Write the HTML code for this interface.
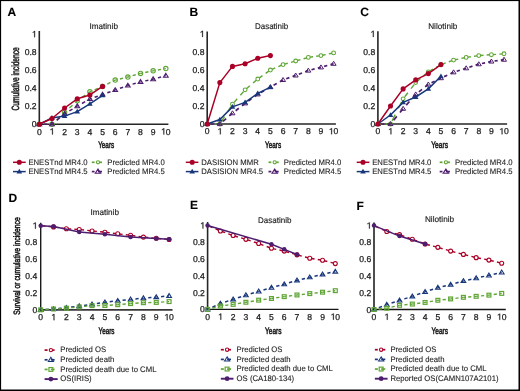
<!DOCTYPE html>
<html><head><meta charset="utf-8"><style>
html,body{margin:0;padding:0;background:#fff;}
body{width:520px;height:391px;overflow:hidden;position:relative;}
svg{position:absolute;left:0;top:0;display:block;will-change:transform;}
text{font-family:"Liberation Sans",sans-serif;text-rendering:geometricPrecision;}
</style></head><body>
<svg width="520" height="391" viewBox="0 0 520 391">
<rect x="0" y="0" width="520" height="391" fill="#fff"/>
<g>
<text x="7.40" y="15.90" font-size="12" text-anchor="start" fill="#000" font-weight="bold" stroke="#000" stroke-width="0.1" >A</text>
<text x="189.40" y="15.70" font-size="12" text-anchor="start" fill="#000" font-weight="bold" stroke="#000" stroke-width="0.1" >B</text>
<text x="360.20" y="16.00" font-size="12" text-anchor="start" fill="#000" font-weight="bold" stroke="#000" stroke-width="0.1" >C</text>
<text x="8.60" y="201.80" font-size="12" text-anchor="start" fill="#000" font-weight="bold" stroke="#000" stroke-width="0.1" >D</text>
<text x="190.10" y="209.40" font-size="12" text-anchor="start" fill="#000" font-weight="bold" stroke="#000" stroke-width="0.1" >E</text>
<text x="356.50" y="209.60" font-size="12" text-anchor="start" fill="#000" font-weight="bold" stroke="#000" stroke-width="0.1" >F</text>
<text x="89.45" y="28.70" font-size="8.3" text-anchor="start" fill="#1c1c1c" font-weight="normal" stroke="#1c1c1c" stroke-width="0.15" textLength="28.57" lengthAdjust="spacingAndGlyphs" >Imatinib</text>
<text x="254.95" y="28.70" font-size="8.3" text-anchor="start" fill="#1c1c1c" font-weight="normal" stroke="#1c1c1c" stroke-width="0.15" textLength="33.36" lengthAdjust="spacingAndGlyphs" >Dasatinib</text>
<text x="428.15" y="28.70" font-size="8.3" text-anchor="start" fill="#1c1c1c" font-weight="normal" stroke="#1c1c1c" stroke-width="0.15" textLength="29.20" lengthAdjust="spacingAndGlyphs" >Nilotinib</text>
<text x="90.40" y="214.80" font-size="8.3" text-anchor="start" fill="#1c1c1c" font-weight="normal" stroke="#1c1c1c" stroke-width="0.15" textLength="28.57" lengthAdjust="spacingAndGlyphs" >Imatinib</text>
<text x="258.05" y="222.75" font-size="8.3" text-anchor="start" fill="#1c1c1c" font-weight="normal" stroke="#1c1c1c" stroke-width="0.15" textLength="33.36" lengthAdjust="spacingAndGlyphs" >Dasatinib</text>
<text x="424.95" y="222.40" font-size="8.3" text-anchor="start" fill="#1c1c1c" font-weight="normal" stroke="#1c1c1c" stroke-width="0.15" textLength="29.20" lengthAdjust="spacingAndGlyphs" >Nilotinib</text>
<line x1="39.30" y1="31.00" x2="39.30" y2="125.00" stroke="#262626" stroke-width="1.6" stroke-linecap="butt"/>
<line x1="38.50" y1="124.20" x2="168.40" y2="124.20" stroke="#262626" stroke-width="1.6" stroke-linecap="butt"/>
<line x1="39.30" y1="124.20" x2="51.95" y2="124.20" stroke="#5fa635" stroke-width="1.4" stroke-dasharray="3.16 3.16" stroke-dashoffset="1.58"/>
<line x1="51.95" y1="124.20" x2="64.60" y2="112.50" stroke="#5fa635" stroke-width="1.4" stroke-dasharray="4.31 4.31" stroke-dashoffset="2.15"/>
<line x1="64.60" y1="112.50" x2="77.25" y2="100.80" stroke="#5fa635" stroke-width="1.4" stroke-dasharray="4.31 4.31" stroke-dashoffset="2.15"/>
<line x1="77.25" y1="100.80" x2="89.90" y2="91.80" stroke="#5fa635" stroke-width="1.4" stroke-dasharray="3.88 3.88" stroke-dashoffset="1.94"/>
<line x1="89.90" y1="91.80" x2="102.55" y2="86.40" stroke="#5fa635" stroke-width="1.4" stroke-dasharray="3.44 3.44" stroke-dashoffset="1.72"/>
<line x1="102.55" y1="86.40" x2="115.20" y2="80.10" stroke="#5fa635" stroke-width="1.4" stroke-dasharray="3.53 3.53" stroke-dashoffset="1.77"/>
<line x1="115.20" y1="80.10" x2="127.85" y2="77.04" stroke="#5fa635" stroke-width="1.4" stroke-dasharray="3.25 3.25" stroke-dashoffset="1.63"/>
<line x1="127.85" y1="77.04" x2="140.50" y2="73.44" stroke="#5fa635" stroke-width="1.4" stroke-dasharray="3.29 3.29" stroke-dashoffset="1.64"/>
<line x1="140.50" y1="73.44" x2="153.15" y2="70.83" stroke="#5fa635" stroke-width="1.4" stroke-dasharray="3.23 3.23" stroke-dashoffset="1.61"/>
<line x1="153.15" y1="70.83" x2="165.80" y2="68.58" stroke="#5fa635" stroke-width="1.4" stroke-dasharray="3.21 3.21" stroke-dashoffset="1.61"/>
<circle cx="39.30" cy="124.20" r="2.2" fill="none" stroke="#5fa635" stroke-width="1.1"/>
<circle cx="51.95" cy="124.20" r="2.2" fill="none" stroke="#5fa635" stroke-width="1.1"/>
<circle cx="64.60" cy="112.50" r="2.2" fill="none" stroke="#5fa635" stroke-width="1.1"/>
<circle cx="77.25" cy="100.80" r="2.2" fill="none" stroke="#5fa635" stroke-width="1.1"/>
<circle cx="89.90" cy="91.80" r="2.2" fill="none" stroke="#5fa635" stroke-width="1.1"/>
<circle cx="102.55" cy="86.40" r="2.2" fill="none" stroke="#5fa635" stroke-width="1.1"/>
<circle cx="115.20" cy="80.10" r="2.2" fill="none" stroke="#5fa635" stroke-width="1.1"/>
<circle cx="127.85" cy="77.04" r="2.2" fill="none" stroke="#5fa635" stroke-width="1.1"/>
<circle cx="140.50" cy="73.44" r="2.2" fill="none" stroke="#5fa635" stroke-width="1.1"/>
<circle cx="153.15" cy="70.83" r="2.2" fill="none" stroke="#5fa635" stroke-width="1.1"/>
<circle cx="165.80" cy="68.58" r="2.2" fill="none" stroke="#5fa635" stroke-width="1.1"/>
<line x1="39.30" y1="124.20" x2="51.95" y2="124.20" stroke="#4d1d6e" stroke-width="1.5" stroke-dasharray="3.16 3.16" stroke-dashoffset="1.58"/>
<line x1="51.95" y1="124.20" x2="64.60" y2="113.85" stroke="#4d1d6e" stroke-width="1.5" stroke-dasharray="4.09 4.09" stroke-dashoffset="2.04"/>
<line x1="64.60" y1="113.85" x2="77.25" y2="106.20" stroke="#4d1d6e" stroke-width="1.5" stroke-dasharray="3.70 3.70" stroke-dashoffset="1.85"/>
<line x1="77.25" y1="106.20" x2="89.90" y2="99.00" stroke="#4d1d6e" stroke-width="1.5" stroke-dasharray="3.64 3.64" stroke-dashoffset="1.82"/>
<line x1="89.90" y1="99.00" x2="102.55" y2="94.50" stroke="#4d1d6e" stroke-width="1.5" stroke-dasharray="3.36 3.36" stroke-dashoffset="1.68"/>
<line x1="102.55" y1="94.50" x2="115.20" y2="90.00" stroke="#4d1d6e" stroke-width="1.5" stroke-dasharray="3.36 3.36" stroke-dashoffset="1.68"/>
<line x1="115.20" y1="90.00" x2="127.85" y2="85.50" stroke="#4d1d6e" stroke-width="1.5" stroke-dasharray="3.36 3.36" stroke-dashoffset="1.68"/>
<line x1="127.85" y1="85.50" x2="140.50" y2="81.90" stroke="#4d1d6e" stroke-width="1.5" stroke-dasharray="3.29 3.29" stroke-dashoffset="1.64"/>
<line x1="140.50" y1="81.90" x2="153.15" y2="79.20" stroke="#4d1d6e" stroke-width="1.5" stroke-dasharray="3.23 3.23" stroke-dashoffset="1.62"/>
<line x1="153.15" y1="79.20" x2="165.80" y2="75.60" stroke="#4d1d6e" stroke-width="1.5" stroke-dasharray="3.29 3.29" stroke-dashoffset="1.64"/>
<polygon points="39.30,121.86 41.70,125.76 36.90,125.76" fill="none" stroke="#4d1d6e" stroke-width="1.05" stroke-linejoin="miter"/>
<polygon points="51.95,121.86 54.35,125.76 49.55,125.76" fill="none" stroke="#4d1d6e" stroke-width="1.05" stroke-linejoin="miter"/>
<polygon points="64.60,111.51 67.00,115.41 62.20,115.41" fill="none" stroke="#4d1d6e" stroke-width="1.05" stroke-linejoin="miter"/>
<polygon points="77.25,103.86 79.65,107.76 74.85,107.76" fill="none" stroke="#4d1d6e" stroke-width="1.05" stroke-linejoin="miter"/>
<polygon points="89.90,96.66 92.30,100.56 87.50,100.56" fill="none" stroke="#4d1d6e" stroke-width="1.05" stroke-linejoin="miter"/>
<polygon points="102.55,92.16 104.95,96.06 100.15,96.06" fill="none" stroke="#4d1d6e" stroke-width="1.05" stroke-linejoin="miter"/>
<polygon points="115.20,87.66 117.60,91.56 112.80,91.56" fill="none" stroke="#4d1d6e" stroke-width="1.05" stroke-linejoin="miter"/>
<polygon points="127.85,83.16 130.25,87.06 125.45,87.06" fill="none" stroke="#4d1d6e" stroke-width="1.05" stroke-linejoin="miter"/>
<polygon points="140.50,79.56 142.90,83.46 138.10,83.46" fill="none" stroke="#4d1d6e" stroke-width="1.05" stroke-linejoin="miter"/>
<polygon points="153.15,76.86 155.55,80.76 150.75,80.76" fill="none" stroke="#4d1d6e" stroke-width="1.05" stroke-linejoin="miter"/>
<polygon points="165.80,73.26 168.20,77.16 163.40,77.16" fill="none" stroke="#4d1d6e" stroke-width="1.05" stroke-linejoin="miter"/>
<polyline points="39.30,124.20 51.95,117.90 64.60,116.10 77.25,111.60 89.90,103.77 102.55,95.40" fill="none" stroke="#18367a" stroke-width="1.5" stroke-linejoin="round"/>
<polygon points="39.30,121.38 42.10,126.08 36.50,126.08" fill="#18367a"/>
<polygon points="51.95,115.08 54.75,119.78 49.15,119.78" fill="#18367a"/>
<polygon points="64.60,113.28 67.40,117.98 61.80,117.98" fill="#18367a"/>
<polygon points="77.25,108.78 80.05,113.48 74.45,113.48" fill="#18367a"/>
<polygon points="89.90,100.95 92.70,105.65 87.10,105.65" fill="#18367a"/>
<polygon points="102.55,92.58 105.35,97.28 99.75,97.28" fill="#18367a"/>
<polyline points="39.30,124.20 51.95,118.53 64.60,108.00 77.25,98.82 89.90,94.95 102.55,86.40" fill="none" stroke="#aa0027" stroke-width="1.5" stroke-linejoin="round"/>
<circle cx="39.30" cy="124.20" r="2.55" fill="#aa0027"/>
<circle cx="51.95" cy="118.53" r="2.55" fill="#aa0027"/>
<circle cx="64.60" cy="108.00" r="2.55" fill="#aa0027"/>
<circle cx="77.25" cy="98.82" r="2.55" fill="#aa0027"/>
<circle cx="89.90" cy="94.95" r="2.55" fill="#aa0027"/>
<circle cx="102.55" cy="86.40" r="2.55" fill="#aa0027"/>
<text x="39.30" y="134.50" font-size="8.6" text-anchor="middle" fill="#1c1c1c" font-weight="normal" stroke="#1c1c1c" stroke-width="0.25" >0</text>
<polygon points="52.02,134.50 52.78,134.50 52.78,128.34 52.28,128.34 50.49,129.46 50.49,130.17 52.02,129.23" fill="#1c1c1c" stroke="#1c1c1c" stroke-width="0.25" stroke-linejoin="round"/>
<text x="64.60" y="134.50" font-size="8.6" text-anchor="middle" fill="#1c1c1c" font-weight="normal" stroke="#1c1c1c" stroke-width="0.25" >2</text>
<text x="77.25" y="134.50" font-size="8.6" text-anchor="middle" fill="#1c1c1c" font-weight="normal" stroke="#1c1c1c" stroke-width="0.25" >3</text>
<text x="89.90" y="134.50" font-size="8.6" text-anchor="middle" fill="#1c1c1c" font-weight="normal" stroke="#1c1c1c" stroke-width="0.25" >4</text>
<text x="102.55" y="134.50" font-size="8.6" text-anchor="middle" fill="#1c1c1c" font-weight="normal" stroke="#1c1c1c" stroke-width="0.25" >5</text>
<text x="115.20" y="134.50" font-size="8.6" text-anchor="middle" fill="#1c1c1c" font-weight="normal" stroke="#1c1c1c" stroke-width="0.25" >6</text>
<text x="127.85" y="134.50" font-size="8.6" text-anchor="middle" fill="#1c1c1c" font-weight="normal" stroke="#1c1c1c" stroke-width="0.25" >7</text>
<text x="140.50" y="134.50" font-size="8.6" text-anchor="middle" fill="#1c1c1c" font-weight="normal" stroke="#1c1c1c" stroke-width="0.25" >8</text>
<text x="153.15" y="134.50" font-size="8.6" text-anchor="middle" fill="#1c1c1c" font-weight="normal" stroke="#1c1c1c" stroke-width="0.25" >9</text>
<polygon points="163.48,134.50 164.23,134.50 164.23,128.34 163.74,128.34 161.95,129.46 161.95,130.17 163.48,129.23" fill="#1c1c1c" stroke="#1c1c1c" stroke-width="0.25" stroke-linejoin="round"/>
<text x="165.80" y="134.50" font-size="8.6" text-anchor="start" fill="#1c1c1c" font-weight="normal" stroke="#1c1c1c" stroke-width="0.25" >0</text>
<text x="36.60" y="127.20" font-size="8.6" text-anchor="end" fill="#1c1c1c" font-weight="normal" stroke="#1c1c1c" stroke-width="0.25" >0</text>
<text x="36.60" y="109.20" font-size="8.6" text-anchor="end" fill="#1c1c1c" font-weight="normal" stroke="#1c1c1c" stroke-width="0.25" >0.2</text>
<text x="36.60" y="91.20" font-size="8.6" text-anchor="end" fill="#1c1c1c" font-weight="normal" stroke="#1c1c1c" stroke-width="0.25" >0.4</text>
<text x="36.60" y="73.20" font-size="8.6" text-anchor="end" fill="#1c1c1c" font-weight="normal" stroke="#1c1c1c" stroke-width="0.25" >0.6</text>
<text x="36.60" y="55.20" font-size="8.6" text-anchor="end" fill="#1c1c1c" font-weight="normal" stroke="#1c1c1c" stroke-width="0.25" >0.8</text>
<polygon points="34.28,37.20 35.03,37.20 35.03,31.04 34.54,31.04 32.75,32.16 32.75,32.87 34.28,31.93" fill="#1c1c1c" stroke="#1c1c1c" stroke-width="0.25" stroke-linejoin="round"/>
<text transform="translate(18.90,78.90) rotate(-90)" x="0" y="0" font-size="10.4" text-anchor="middle" fill="#1c1c1c" stroke="#1c1c1c" stroke-width="0.55" textLength="63.4" lengthAdjust="spacingAndGlyphs">Cumulative incidence</text>
<text x="98.20" y="147.80" font-size="9.3" fill="#1c1c1c" stroke="#1c1c1c" stroke-width="0.55" textLength="16.00" lengthAdjust="spacingAndGlyphs">Years</text>
<line x1="207.20" y1="31.40" x2="207.20" y2="124.80" stroke="#262626" stroke-width="1.6" stroke-linecap="butt"/>
<line x1="206.40" y1="124.00" x2="335.90" y2="124.00" stroke="#262626" stroke-width="1.6" stroke-linecap="butt"/>
<line x1="207.20" y1="124.00" x2="219.84" y2="124.00" stroke="#5fa635" stroke-width="1.4" stroke-dasharray="3.16 3.16" stroke-dashoffset="4.74"/>
<line x1="219.84" y1="124.00" x2="232.48" y2="104.20" stroke="#5fa635" stroke-width="1.4" stroke-dasharray="5.87 5.87" stroke-dashoffset="8.81"/>
<line x1="232.48" y1="104.20" x2="245.12" y2="89.80" stroke="#5fa635" stroke-width="1.4" stroke-dasharray="4.79 4.79" stroke-dashoffset="7.19"/>
<line x1="245.12" y1="89.80" x2="257.76" y2="79.00" stroke="#5fa635" stroke-width="1.4" stroke-dasharray="4.16 4.16" stroke-dashoffset="6.23"/>
<line x1="257.76" y1="79.00" x2="270.40" y2="70.00" stroke="#5fa635" stroke-width="1.4" stroke-dasharray="3.88 3.88" stroke-dashoffset="5.82"/>
<line x1="270.40" y1="70.00" x2="283.04" y2="64.60" stroke="#5fa635" stroke-width="1.4" stroke-dasharray="3.44 3.44" stroke-dashoffset="5.15"/>
<line x1="283.04" y1="64.60" x2="295.68" y2="61.00" stroke="#5fa635" stroke-width="1.4" stroke-dasharray="3.29 3.29" stroke-dashoffset="4.93"/>
<line x1="295.68" y1="61.00" x2="308.32" y2="57.40" stroke="#5fa635" stroke-width="1.4" stroke-dasharray="3.29 3.29" stroke-dashoffset="4.93"/>
<line x1="308.32" y1="57.40" x2="320.96" y2="55.60" stroke="#5fa635" stroke-width="1.4" stroke-dasharray="3.19 3.19" stroke-dashoffset="4.79"/>
<line x1="320.96" y1="55.60" x2="333.60" y2="52.90" stroke="#5fa635" stroke-width="1.4" stroke-dasharray="3.23 3.23" stroke-dashoffset="4.85"/>
<circle cx="207.20" cy="124.00" r="1.9" fill="none" stroke="#5fa635" stroke-width="1.05"/>
<circle cx="219.84" cy="124.00" r="1.9" fill="none" stroke="#5fa635" stroke-width="1.05"/>
<circle cx="232.48" cy="104.20" r="1.9" fill="none" stroke="#5fa635" stroke-width="1.05"/>
<circle cx="245.12" cy="89.80" r="1.9" fill="none" stroke="#5fa635" stroke-width="1.05"/>
<circle cx="257.76" cy="79.00" r="1.9" fill="none" stroke="#5fa635" stroke-width="1.05"/>
<circle cx="270.40" cy="70.00" r="1.9" fill="none" stroke="#5fa635" stroke-width="1.05"/>
<circle cx="283.04" cy="64.60" r="1.9" fill="none" stroke="#5fa635" stroke-width="1.05"/>
<circle cx="295.68" cy="61.00" r="1.9" fill="none" stroke="#5fa635" stroke-width="1.05"/>
<circle cx="308.32" cy="57.40" r="1.9" fill="none" stroke="#5fa635" stroke-width="1.05"/>
<circle cx="320.96" cy="55.60" r="1.9" fill="none" stroke="#5fa635" stroke-width="1.05"/>
<circle cx="333.60" cy="52.90" r="1.9" fill="none" stroke="#5fa635" stroke-width="1.05"/>
<line x1="207.20" y1="124.00" x2="219.84" y2="124.00" stroke="#4d1d6e" stroke-width="1.7" stroke-dasharray="3.16 3.16" stroke-dashoffset="3.16"/>
<line x1="219.84" y1="124.00" x2="232.48" y2="113.20" stroke="#4d1d6e" stroke-width="1.7" stroke-dasharray="4.16 4.16" stroke-dashoffset="4.16"/>
<line x1="232.48" y1="113.20" x2="245.12" y2="103.30" stroke="#4d1d6e" stroke-width="1.7" stroke-dasharray="4.01 4.01" stroke-dashoffset="4.01"/>
<line x1="245.12" y1="103.30" x2="257.76" y2="94.30" stroke="#4d1d6e" stroke-width="1.7" stroke-dasharray="3.88 3.88" stroke-dashoffset="3.88"/>
<line x1="257.76" y1="94.30" x2="270.40" y2="87.10" stroke="#4d1d6e" stroke-width="1.7" stroke-dasharray="3.64 3.64" stroke-dashoffset="3.64"/>
<line x1="270.40" y1="87.10" x2="283.04" y2="79.90" stroke="#4d1d6e" stroke-width="1.7" stroke-dasharray="3.64 3.64" stroke-dashoffset="3.64"/>
<line x1="283.04" y1="79.90" x2="295.68" y2="75.40" stroke="#4d1d6e" stroke-width="1.7" stroke-dasharray="3.35 3.35" stroke-dashoffset="3.35"/>
<line x1="295.68" y1="75.40" x2="308.32" y2="70.54" stroke="#4d1d6e" stroke-width="1.7" stroke-dasharray="3.39 3.39" stroke-dashoffset="3.39"/>
<line x1="308.32" y1="70.54" x2="320.96" y2="67.30" stroke="#4d1d6e" stroke-width="1.7" stroke-dasharray="3.26 3.26" stroke-dashoffset="3.26"/>
<line x1="320.96" y1="67.30" x2="333.60" y2="63.70" stroke="#4d1d6e" stroke-width="1.7" stroke-dasharray="3.29 3.29" stroke-dashoffset="3.29"/>
<polygon points="207.20,121.60 209.70,125.60 204.70,125.60" fill="none" stroke="#4d1d6e" stroke-width="1.0" stroke-linejoin="miter"/>
<polygon points="219.84,121.60 222.34,125.60 217.34,125.60" fill="none" stroke="#4d1d6e" stroke-width="1.0" stroke-linejoin="miter"/>
<polygon points="232.48,110.80 234.98,114.80 229.98,114.80" fill="none" stroke="#4d1d6e" stroke-width="1.0" stroke-linejoin="miter"/>
<polygon points="245.12,100.90 247.62,104.90 242.62,104.90" fill="none" stroke="#4d1d6e" stroke-width="1.0" stroke-linejoin="miter"/>
<polygon points="257.76,91.90 260.26,95.90 255.26,95.90" fill="none" stroke="#4d1d6e" stroke-width="1.0" stroke-linejoin="miter"/>
<polygon points="270.40,84.70 272.90,88.70 267.90,88.70" fill="none" stroke="#4d1d6e" stroke-width="1.0" stroke-linejoin="miter"/>
<polygon points="283.04,77.50 285.54,81.50 280.54,81.50" fill="none" stroke="#4d1d6e" stroke-width="1.0" stroke-linejoin="miter"/>
<polygon points="295.68,73.00 298.18,77.00 293.18,77.00" fill="none" stroke="#4d1d6e" stroke-width="1.0" stroke-linejoin="miter"/>
<polygon points="308.32,68.14 310.82,72.14 305.82,72.14" fill="none" stroke="#4d1d6e" stroke-width="1.0" stroke-linejoin="miter"/>
<polygon points="320.96,64.90 323.46,68.90 318.46,68.90" fill="none" stroke="#4d1d6e" stroke-width="1.0" stroke-linejoin="miter"/>
<polygon points="333.60,61.30 336.10,65.30 331.10,65.30" fill="none" stroke="#4d1d6e" stroke-width="1.0" stroke-linejoin="miter"/>
<polyline points="207.20,124.00 219.84,119.50 232.48,106.90 245.12,102.40 257.76,93.40 270.40,87.10" fill="none" stroke="#18367a" stroke-width="1.5" stroke-linejoin="round"/>
<polygon points="207.20,121.18 210.00,125.88 204.40,125.88" fill="#18367a"/>
<polygon points="219.84,116.68 222.64,121.38 217.04,121.38" fill="#18367a"/>
<polygon points="232.48,104.08 235.28,108.78 229.68,108.78" fill="#18367a"/>
<polygon points="245.12,99.58 247.92,104.28 242.32,104.28" fill="#18367a"/>
<polygon points="257.76,90.58 260.56,95.28 254.96,95.28" fill="#18367a"/>
<polygon points="270.40,84.28 273.20,88.98 267.60,88.98" fill="#18367a"/>
<polyline points="207.20,124.00 219.84,82.60 232.48,66.40 245.12,63.70 257.76,58.30 270.40,55.60" fill="none" stroke="#aa0027" stroke-width="1.5" stroke-linejoin="round"/>
<circle cx="207.20" cy="124.00" r="2.55" fill="#aa0027"/>
<circle cx="219.84" cy="82.60" r="2.55" fill="#aa0027"/>
<circle cx="232.48" cy="66.40" r="2.55" fill="#aa0027"/>
<circle cx="245.12" cy="63.70" r="2.55" fill="#aa0027"/>
<circle cx="257.76" cy="58.30" r="2.55" fill="#aa0027"/>
<circle cx="270.40" cy="55.60" r="2.55" fill="#aa0027"/>
<text x="207.20" y="134.30" font-size="8.6" text-anchor="middle" fill="#1c1c1c" font-weight="normal" stroke="#1c1c1c" stroke-width="0.25" >0</text>
<polygon points="219.91,134.30 220.67,134.30 220.67,128.14 220.17,128.14 218.38,129.26 218.38,129.97 219.91,129.03" fill="#1c1c1c" stroke="#1c1c1c" stroke-width="0.25" stroke-linejoin="round"/>
<text x="232.48" y="134.30" font-size="8.6" text-anchor="middle" fill="#1c1c1c" font-weight="normal" stroke="#1c1c1c" stroke-width="0.25" >2</text>
<text x="245.12" y="134.30" font-size="8.6" text-anchor="middle" fill="#1c1c1c" font-weight="normal" stroke="#1c1c1c" stroke-width="0.25" >3</text>
<text x="257.76" y="134.30" font-size="8.6" text-anchor="middle" fill="#1c1c1c" font-weight="normal" stroke="#1c1c1c" stroke-width="0.25" >4</text>
<text x="270.40" y="134.30" font-size="8.6" text-anchor="middle" fill="#1c1c1c" font-weight="normal" stroke="#1c1c1c" stroke-width="0.25" >5</text>
<text x="283.04" y="134.30" font-size="8.6" text-anchor="middle" fill="#1c1c1c" font-weight="normal" stroke="#1c1c1c" stroke-width="0.25" >6</text>
<text x="295.68" y="134.30" font-size="8.6" text-anchor="middle" fill="#1c1c1c" font-weight="normal" stroke="#1c1c1c" stroke-width="0.25" >7</text>
<text x="308.32" y="134.30" font-size="8.6" text-anchor="middle" fill="#1c1c1c" font-weight="normal" stroke="#1c1c1c" stroke-width="0.25" >8</text>
<text x="320.96" y="134.30" font-size="8.6" text-anchor="middle" fill="#1c1c1c" font-weight="normal" stroke="#1c1c1c" stroke-width="0.25" >9</text>
<polygon points="331.28,134.30 332.03,134.30 332.03,128.14 331.54,128.14 329.75,129.26 329.75,129.97 331.28,129.03" fill="#1c1c1c" stroke="#1c1c1c" stroke-width="0.25" stroke-linejoin="round"/>
<text x="333.60" y="134.30" font-size="8.6" text-anchor="start" fill="#1c1c1c" font-weight="normal" stroke="#1c1c1c" stroke-width="0.25" >0</text>
<text x="204.50" y="127.00" font-size="8.6" text-anchor="end" fill="#1c1c1c" font-weight="normal" stroke="#1c1c1c" stroke-width="0.25" >0</text>
<text x="204.50" y="109.00" font-size="8.6" text-anchor="end" fill="#1c1c1c" font-weight="normal" stroke="#1c1c1c" stroke-width="0.25" >0.2</text>
<text x="204.50" y="91.00" font-size="8.6" text-anchor="end" fill="#1c1c1c" font-weight="normal" stroke="#1c1c1c" stroke-width="0.25" >0.4</text>
<text x="204.50" y="73.00" font-size="8.6" text-anchor="end" fill="#1c1c1c" font-weight="normal" stroke="#1c1c1c" stroke-width="0.25" >0.6</text>
<text x="204.50" y="55.00" font-size="8.6" text-anchor="end" fill="#1c1c1c" font-weight="normal" stroke="#1c1c1c" stroke-width="0.25" >0.8</text>
<polygon points="202.18,37.00 202.93,37.00 202.93,30.84 202.44,30.84 200.65,31.96 200.65,32.67 202.18,31.73" fill="#1c1c1c" stroke="#1c1c1c" stroke-width="0.25" stroke-linejoin="round"/>
<text x="265.00" y="147.80" font-size="9.3" fill="#1c1c1c" stroke="#1c1c1c" stroke-width="0.55" textLength="16.20" lengthAdjust="spacingAndGlyphs">Years</text>
<line x1="377.90" y1="31.30" x2="377.90" y2="124.80" stroke="#262626" stroke-width="1.6" stroke-linecap="butt"/>
<line x1="377.10" y1="124.00" x2="507.10" y2="124.00" stroke="#262626" stroke-width="1.6" stroke-linecap="butt"/>
<line x1="377.90" y1="124.00" x2="390.51" y2="124.00" stroke="#5fa635" stroke-width="1.4" stroke-dasharray="3.15 3.15" stroke-dashoffset="4.73"/>
<line x1="390.51" y1="124.00" x2="403.12" y2="98.80" stroke="#5fa635" stroke-width="1.4" stroke-dasharray="7.04 7.04" stroke-dashoffset="10.57"/>
<line x1="403.12" y1="98.80" x2="415.73" y2="82.60" stroke="#5fa635" stroke-width="1.4" stroke-dasharray="5.13 5.13" stroke-dashoffset="7.70"/>
<line x1="415.73" y1="82.60" x2="428.34" y2="71.80" stroke="#5fa635" stroke-width="1.4" stroke-dasharray="4.15 4.15" stroke-dashoffset="6.23"/>
<line x1="428.34" y1="71.80" x2="440.95" y2="64.60" stroke="#5fa635" stroke-width="1.4" stroke-dasharray="3.63 3.63" stroke-dashoffset="5.45"/>
<line x1="440.95" y1="64.60" x2="453.56" y2="60.10" stroke="#5fa635" stroke-width="1.4" stroke-dasharray="3.35 3.35" stroke-dashoffset="5.02"/>
<line x1="453.56" y1="60.10" x2="466.17" y2="57.40" stroke="#5fa635" stroke-width="1.4" stroke-dasharray="3.22 3.22" stroke-dashoffset="4.84"/>
<line x1="466.17" y1="57.40" x2="478.78" y2="55.60" stroke="#5fa635" stroke-width="1.4" stroke-dasharray="3.18 3.18" stroke-dashoffset="4.78"/>
<line x1="478.78" y1="55.60" x2="491.39" y2="54.70" stroke="#5fa635" stroke-width="1.4" stroke-dasharray="3.16 3.16" stroke-dashoffset="4.74"/>
<line x1="491.39" y1="54.70" x2="504.00" y2="53.80" stroke="#5fa635" stroke-width="1.4" stroke-dasharray="3.16 3.16" stroke-dashoffset="4.74"/>
<circle cx="377.90" cy="124.00" r="1.9" fill="none" stroke="#5fa635" stroke-width="1.05"/>
<circle cx="390.51" cy="124.00" r="1.9" fill="none" stroke="#5fa635" stroke-width="1.05"/>
<circle cx="403.12" cy="98.80" r="1.9" fill="none" stroke="#5fa635" stroke-width="1.05"/>
<circle cx="415.73" cy="82.60" r="1.9" fill="none" stroke="#5fa635" stroke-width="1.05"/>
<circle cx="428.34" cy="71.80" r="1.9" fill="none" stroke="#5fa635" stroke-width="1.05"/>
<circle cx="440.95" cy="64.60" r="1.9" fill="none" stroke="#5fa635" stroke-width="1.05"/>
<circle cx="453.56" cy="60.10" r="1.9" fill="none" stroke="#5fa635" stroke-width="1.05"/>
<circle cx="466.17" cy="57.40" r="1.9" fill="none" stroke="#5fa635" stroke-width="1.05"/>
<circle cx="478.78" cy="55.60" r="1.9" fill="none" stroke="#5fa635" stroke-width="1.05"/>
<circle cx="491.39" cy="54.70" r="1.9" fill="none" stroke="#5fa635" stroke-width="1.05"/>
<circle cx="504.00" cy="53.80" r="1.9" fill="none" stroke="#5fa635" stroke-width="1.05"/>
<line x1="377.90" y1="124.00" x2="390.51" y2="124.00" stroke="#4d1d6e" stroke-width="1.7" stroke-dasharray="3.15 3.15" stroke-dashoffset="3.15"/>
<line x1="390.51" y1="124.00" x2="403.12" y2="108.70" stroke="#4d1d6e" stroke-width="1.7" stroke-dasharray="4.96 4.96" stroke-dashoffset="4.96"/>
<line x1="403.12" y1="108.70" x2="415.73" y2="94.30" stroke="#4d1d6e" stroke-width="1.7" stroke-dasharray="4.79 4.79" stroke-dashoffset="4.79"/>
<line x1="415.73" y1="94.30" x2="428.34" y2="84.40" stroke="#4d1d6e" stroke-width="1.7" stroke-dasharray="4.01 4.01" stroke-dashoffset="4.01"/>
<line x1="428.34" y1="84.40" x2="440.95" y2="78.10" stroke="#4d1d6e" stroke-width="1.7" stroke-dasharray="3.52 3.52" stroke-dashoffset="3.52"/>
<line x1="440.95" y1="78.10" x2="453.56" y2="72.25" stroke="#4d1d6e" stroke-width="1.7" stroke-dasharray="3.48 3.48" stroke-dashoffset="3.48"/>
<line x1="453.56" y1="72.25" x2="466.17" y2="68.20" stroke="#4d1d6e" stroke-width="1.7" stroke-dasharray="3.31 3.31" stroke-dashoffset="3.31"/>
<line x1="466.17" y1="68.20" x2="478.78" y2="64.15" stroke="#4d1d6e" stroke-width="1.7" stroke-dasharray="3.31 3.31" stroke-dashoffset="3.31"/>
<line x1="478.78" y1="64.15" x2="491.39" y2="61.45" stroke="#4d1d6e" stroke-width="1.7" stroke-dasharray="3.22 3.22" stroke-dashoffset="3.22"/>
<line x1="491.39" y1="61.45" x2="504.00" y2="59.65" stroke="#4d1d6e" stroke-width="1.7" stroke-dasharray="3.18 3.18" stroke-dashoffset="3.18"/>
<polygon points="377.90,121.60 380.40,125.60 375.40,125.60" fill="none" stroke="#4d1d6e" stroke-width="1.0" stroke-linejoin="miter"/>
<polygon points="390.51,121.60 393.01,125.60 388.01,125.60" fill="none" stroke="#4d1d6e" stroke-width="1.0" stroke-linejoin="miter"/>
<polygon points="403.12,106.30 405.62,110.30 400.62,110.30" fill="none" stroke="#4d1d6e" stroke-width="1.0" stroke-linejoin="miter"/>
<polygon points="415.73,91.90 418.23,95.90 413.23,95.90" fill="none" stroke="#4d1d6e" stroke-width="1.0" stroke-linejoin="miter"/>
<polygon points="428.34,82.00 430.84,86.00 425.84,86.00" fill="none" stroke="#4d1d6e" stroke-width="1.0" stroke-linejoin="miter"/>
<polygon points="440.95,75.70 443.45,79.70 438.45,79.70" fill="none" stroke="#4d1d6e" stroke-width="1.0" stroke-linejoin="miter"/>
<polygon points="453.56,69.85 456.06,73.85 451.06,73.85" fill="none" stroke="#4d1d6e" stroke-width="1.0" stroke-linejoin="miter"/>
<polygon points="466.17,65.80 468.67,69.80 463.67,69.80" fill="none" stroke="#4d1d6e" stroke-width="1.0" stroke-linejoin="miter"/>
<polygon points="478.78,61.75 481.28,65.75 476.28,65.75" fill="none" stroke="#4d1d6e" stroke-width="1.0" stroke-linejoin="miter"/>
<polygon points="491.39,59.05 493.89,63.05 488.89,63.05" fill="none" stroke="#4d1d6e" stroke-width="1.0" stroke-linejoin="miter"/>
<polygon points="504.00,57.25 506.50,61.25 501.50,61.25" fill="none" stroke="#4d1d6e" stroke-width="1.0" stroke-linejoin="miter"/>
<polyline points="377.90,124.00 390.51,115.00 403.12,102.40 415.73,97.00 428.34,88.90 440.95,76.30" fill="none" stroke="#18367a" stroke-width="1.5" stroke-linejoin="round"/>
<polygon points="377.90,121.18 380.70,125.88 375.10,125.88" fill="#18367a"/>
<polygon points="390.51,112.18 393.31,116.88 387.71,116.88" fill="#18367a"/>
<polygon points="403.12,99.58 405.92,104.28 400.32,104.28" fill="#18367a"/>
<polygon points="415.73,94.18 418.53,98.88 412.93,98.88" fill="#18367a"/>
<polygon points="428.34,86.08 431.14,90.78 425.54,90.78" fill="#18367a"/>
<polygon points="440.95,73.48 443.75,78.18 438.15,78.18" fill="#18367a"/>
<polyline points="377.90,124.00 390.51,106.00 403.12,88.90 415.73,79.90 428.34,73.60 440.95,64.60" fill="none" stroke="#aa0027" stroke-width="1.5" stroke-linejoin="round"/>
<circle cx="377.90" cy="124.00" r="2.55" fill="#aa0027"/>
<circle cx="390.51" cy="106.00" r="2.55" fill="#aa0027"/>
<circle cx="403.12" cy="88.90" r="2.55" fill="#aa0027"/>
<circle cx="415.73" cy="79.90" r="2.55" fill="#aa0027"/>
<circle cx="428.34" cy="73.60" r="2.55" fill="#aa0027"/>
<circle cx="440.95" cy="64.60" r="2.55" fill="#aa0027"/>
<text x="377.90" y="134.30" font-size="8.6" text-anchor="middle" fill="#1c1c1c" font-weight="normal" stroke="#1c1c1c" stroke-width="0.25" >0</text>
<polygon points="390.58,134.30 391.34,134.30 391.34,128.14 390.84,128.14 389.05,129.26 389.05,129.97 390.58,129.03" fill="#1c1c1c" stroke="#1c1c1c" stroke-width="0.25" stroke-linejoin="round"/>
<text x="403.12" y="134.30" font-size="8.6" text-anchor="middle" fill="#1c1c1c" font-weight="normal" stroke="#1c1c1c" stroke-width="0.25" >2</text>
<text x="415.73" y="134.30" font-size="8.6" text-anchor="middle" fill="#1c1c1c" font-weight="normal" stroke="#1c1c1c" stroke-width="0.25" >3</text>
<text x="428.34" y="134.30" font-size="8.6" text-anchor="middle" fill="#1c1c1c" font-weight="normal" stroke="#1c1c1c" stroke-width="0.25" >4</text>
<text x="440.95" y="134.30" font-size="8.6" text-anchor="middle" fill="#1c1c1c" font-weight="normal" stroke="#1c1c1c" stroke-width="0.25" >5</text>
<text x="453.56" y="134.30" font-size="8.6" text-anchor="middle" fill="#1c1c1c" font-weight="normal" stroke="#1c1c1c" stroke-width="0.25" >6</text>
<text x="466.17" y="134.30" font-size="8.6" text-anchor="middle" fill="#1c1c1c" font-weight="normal" stroke="#1c1c1c" stroke-width="0.25" >7</text>
<text x="478.78" y="134.30" font-size="8.6" text-anchor="middle" fill="#1c1c1c" font-weight="normal" stroke="#1c1c1c" stroke-width="0.25" >8</text>
<text x="491.39" y="134.30" font-size="8.6" text-anchor="middle" fill="#1c1c1c" font-weight="normal" stroke="#1c1c1c" stroke-width="0.25" >9</text>
<polygon points="501.68,134.30 502.43,134.30 502.43,128.14 501.94,128.14 500.15,129.26 500.15,129.97 501.68,129.03" fill="#1c1c1c" stroke="#1c1c1c" stroke-width="0.25" stroke-linejoin="round"/>
<text x="504.00" y="134.30" font-size="8.6" text-anchor="start" fill="#1c1c1c" font-weight="normal" stroke="#1c1c1c" stroke-width="0.25" >0</text>
<text x="375.20" y="127.00" font-size="8.6" text-anchor="end" fill="#1c1c1c" font-weight="normal" stroke="#1c1c1c" stroke-width="0.25" >0</text>
<text x="375.20" y="109.00" font-size="8.6" text-anchor="end" fill="#1c1c1c" font-weight="normal" stroke="#1c1c1c" stroke-width="0.25" >0.2</text>
<text x="375.20" y="91.00" font-size="8.6" text-anchor="end" fill="#1c1c1c" font-weight="normal" stroke="#1c1c1c" stroke-width="0.25" >0.4</text>
<text x="375.20" y="73.00" font-size="8.6" text-anchor="end" fill="#1c1c1c" font-weight="normal" stroke="#1c1c1c" stroke-width="0.25" >0.6</text>
<text x="375.20" y="55.00" font-size="8.6" text-anchor="end" fill="#1c1c1c" font-weight="normal" stroke="#1c1c1c" stroke-width="0.25" >0.8</text>
<polygon points="372.88,37.00 373.63,37.00 373.63,30.84 373.14,30.84 371.35,31.96 371.35,32.67 372.88,31.73" fill="#1c1c1c" stroke="#1c1c1c" stroke-width="0.25" stroke-linejoin="round"/>
<text x="431.30" y="147.80" font-size="9.3" fill="#1c1c1c" stroke="#1c1c1c" stroke-width="0.55" textLength="16.70" lengthAdjust="spacingAndGlyphs">Years</text>
<line x1="13.00" y1="162.30" x2="25.70" y2="162.30" stroke="#aa0027" stroke-width="1.5" stroke-linecap="butt"/>
<circle cx="19.30" cy="162.30" r="2.55" fill="#aa0027"/>
<text x="28.40" y="164.60" font-size="8.0" text-anchor="start" fill="#1c1c1c" font-weight="normal" stroke="#1c1c1c" stroke-width="0.1" textLength="59.21" lengthAdjust="spacingAndGlyphs" >ENESTnd MR4.0</text>
<line x1="13.00" y1="171.60" x2="25.70" y2="171.60" stroke="#18367a" stroke-width="1.5" stroke-linecap="butt"/>
<polygon points="19.30,168.78 22.10,173.48 16.50,173.48" fill="#18367a"/>
<text x="28.40" y="173.90" font-size="8.0" text-anchor="start" fill="#1c1c1c" font-weight="normal" stroke="#1c1c1c" stroke-width="0.1" textLength="59.21" lengthAdjust="spacingAndGlyphs" >ENESTnd MR4.5</text>
<line x1="91.80" y1="162.30" x2="94.60" y2="162.30" stroke="#5fa635" stroke-width="1.7" stroke-linecap="butt"/>
<line x1="99.60" y1="162.30" x2="102.00" y2="162.30" stroke="#5fa635" stroke-width="1.7" stroke-linecap="butt"/>
<circle cx="98.00" cy="162.30" r="1.6" fill="none" stroke="#5fa635" stroke-width="1.1"/>
<text x="107.30" y="164.60" font-size="8.0" text-anchor="start" fill="#1c1c1c" font-weight="normal" stroke="#1c1c1c" stroke-width="0.1" textLength="57.50" lengthAdjust="spacingAndGlyphs" >Predicted MR4.0</text>
<line x1="91.80" y1="171.60" x2="94.60" y2="171.60" stroke="#4d1d6e" stroke-width="1.7" stroke-linecap="butt"/>
<line x1="98.00" y1="171.60" x2="102.00" y2="171.60" stroke="#4d1d6e" stroke-width="1.7" stroke-linecap="butt"/>
<polygon points="98.00,169.08 100.70,173.28 95.30,173.28" fill="none" stroke="#4d1d6e" stroke-width="1.1" stroke-linejoin="miter"/>
<text x="107.30" y="173.90" font-size="8.0" text-anchor="start" fill="#1c1c1c" font-weight="normal" stroke="#1c1c1c" stroke-width="0.1" textLength="57.50" lengthAdjust="spacingAndGlyphs" >Predicted MR4.5</text>
<line x1="185.80" y1="162.30" x2="198.40" y2="162.30" stroke="#aa0027" stroke-width="1.5" stroke-linecap="butt"/>
<circle cx="192.20" cy="162.30" r="2.55" fill="#aa0027"/>
<text x="201.30" y="164.60" font-size="8.0" text-anchor="start" fill="#1c1c1c" font-weight="normal" stroke="#1c1c1c" stroke-width="0.1" textLength="57.47" lengthAdjust="spacingAndGlyphs" >DASISION MMR</text>
<line x1="185.80" y1="171.60" x2="198.40" y2="171.60" stroke="#18367a" stroke-width="1.5" stroke-linecap="butt"/>
<polygon points="192.20,168.78 195.00,173.48 189.40,173.48" fill="#18367a"/>
<text x="201.30" y="173.90" font-size="8.0" text-anchor="start" fill="#1c1c1c" font-weight="normal" stroke="#1c1c1c" stroke-width="0.1" textLength="61.78" lengthAdjust="spacingAndGlyphs" >DASISION MR4.5</text>
<line x1="268.50" y1="162.30" x2="271.30" y2="162.30" stroke="#5fa635" stroke-width="1.7" stroke-linecap="butt"/>
<line x1="276.30" y1="162.30" x2="278.70" y2="162.30" stroke="#5fa635" stroke-width="1.7" stroke-linecap="butt"/>
<circle cx="274.70" cy="162.30" r="1.6" fill="none" stroke="#5fa635" stroke-width="1.1"/>
<text x="283.80" y="164.60" font-size="8.0" text-anchor="start" fill="#1c1c1c" font-weight="normal" stroke="#1c1c1c" stroke-width="0.1" textLength="57.50" lengthAdjust="spacingAndGlyphs" >Predicted MR4.0</text>
<line x1="268.50" y1="171.60" x2="271.30" y2="171.60" stroke="#4d1d6e" stroke-width="1.7" stroke-linecap="butt"/>
<line x1="274.70" y1="171.60" x2="278.70" y2="171.60" stroke="#4d1d6e" stroke-width="1.7" stroke-linecap="butt"/>
<polygon points="274.70,169.08 277.40,173.28 272.00,173.28" fill="none" stroke="#4d1d6e" stroke-width="1.1" stroke-linejoin="miter"/>
<text x="283.80" y="173.90" font-size="8.0" text-anchor="start" fill="#1c1c1c" font-weight="normal" stroke="#1c1c1c" stroke-width="0.1" textLength="57.50" lengthAdjust="spacingAndGlyphs" >Predicted MR4.5</text>
<line x1="356.70" y1="162.30" x2="369.40" y2="162.30" stroke="#aa0027" stroke-width="1.5" stroke-linecap="butt"/>
<circle cx="363.00" cy="162.30" r="2.55" fill="#aa0027"/>
<text x="372.20" y="164.60" font-size="8.0" text-anchor="start" fill="#1c1c1c" font-weight="normal" stroke="#1c1c1c" stroke-width="0.1" textLength="59.21" lengthAdjust="spacingAndGlyphs" >ENESTnd MR4.0</text>
<line x1="356.70" y1="171.60" x2="369.40" y2="171.60" stroke="#18367a" stroke-width="1.5" stroke-linecap="butt"/>
<polygon points="363.00,168.78 365.80,173.48 360.20,173.48" fill="#18367a"/>
<text x="372.20" y="173.90" font-size="8.0" text-anchor="start" fill="#1c1c1c" font-weight="normal" stroke="#1c1c1c" stroke-width="0.1" textLength="59.21" lengthAdjust="spacingAndGlyphs" >ENESTnd MR4.5</text>
<line x1="439.70" y1="162.30" x2="442.50" y2="162.30" stroke="#5fa635" stroke-width="1.7" stroke-linecap="butt"/>
<line x1="447.50" y1="162.30" x2="449.90" y2="162.30" stroke="#5fa635" stroke-width="1.7" stroke-linecap="butt"/>
<circle cx="445.90" cy="162.30" r="1.6" fill="none" stroke="#5fa635" stroke-width="1.1"/>
<text x="455.10" y="164.60" font-size="8.0" text-anchor="start" fill="#1c1c1c" font-weight="normal" stroke="#1c1c1c" stroke-width="0.1" textLength="57.50" lengthAdjust="spacingAndGlyphs" >Predicted MR4.0</text>
<line x1="439.70" y1="171.60" x2="442.50" y2="171.60" stroke="#4d1d6e" stroke-width="1.7" stroke-linecap="butt"/>
<line x1="445.90" y1="171.60" x2="449.90" y2="171.60" stroke="#4d1d6e" stroke-width="1.7" stroke-linecap="butt"/>
<polygon points="445.90,169.08 448.60,173.28 443.20,173.28" fill="none" stroke="#4d1d6e" stroke-width="1.1" stroke-linejoin="miter"/>
<text x="455.10" y="173.90" font-size="8.0" text-anchor="start" fill="#1c1c1c" font-weight="normal" stroke="#1c1c1c" stroke-width="0.1" textLength="57.50" lengthAdjust="spacingAndGlyphs" >Predicted MR4.5</text>
<line x1="40.70" y1="222.80" x2="40.70" y2="310.80" stroke="#1a1a1a" stroke-width="1.4" stroke-linecap="butt"/>
<line x1="40.00" y1="309.85" x2="172.50" y2="309.85" stroke="#383838" stroke-width="1.9" stroke-linecap="butt"/>
<line x1="40.70" y1="309.85" x2="53.54" y2="309.01" stroke="#18367a" stroke-width="1.5" stroke-dasharray="3.22 3.22" stroke-dashoffset="1.61"/>
<line x1="53.54" y1="309.01" x2="66.38" y2="307.75" stroke="#18367a" stroke-width="1.5" stroke-dasharray="3.23 3.23" stroke-dashoffset="1.61"/>
<line x1="66.38" y1="307.75" x2="79.22" y2="306.06" stroke="#18367a" stroke-width="1.5" stroke-dasharray="3.24 3.24" stroke-dashoffset="1.62"/>
<line x1="79.22" y1="306.06" x2="92.06" y2="304.38" stroke="#18367a" stroke-width="1.5" stroke-dasharray="3.24 3.24" stroke-dashoffset="1.62"/>
<line x1="92.06" y1="304.38" x2="104.90" y2="302.27" stroke="#18367a" stroke-width="1.5" stroke-dasharray="3.25 3.25" stroke-dashoffset="1.63"/>
<line x1="104.90" y1="302.27" x2="117.74" y2="300.76" stroke="#18367a" stroke-width="1.5" stroke-dasharray="3.23 3.23" stroke-dashoffset="1.62"/>
<line x1="117.74" y1="300.76" x2="130.58" y2="299.41" stroke="#18367a" stroke-width="1.5" stroke-dasharray="3.23 3.23" stroke-dashoffset="1.61"/>
<line x1="130.58" y1="299.41" x2="143.42" y2="298.15" stroke="#18367a" stroke-width="1.5" stroke-dasharray="3.23 3.23" stroke-dashoffset="1.61"/>
<line x1="143.42" y1="298.15" x2="156.26" y2="297.05" stroke="#18367a" stroke-width="1.5" stroke-dasharray="3.22 3.22" stroke-dashoffset="1.61"/>
<line x1="156.26" y1="297.05" x2="169.10" y2="295.96" stroke="#18367a" stroke-width="1.5" stroke-dasharray="3.22 3.22" stroke-dashoffset="1.61"/>
<polygon points="40.70,307.51 43.10,311.41 38.30,311.41" fill="none" stroke="#18367a" stroke-width="1.05" stroke-linejoin="miter"/>
<polygon points="53.54,306.67 55.94,310.57 51.14,310.57" fill="none" stroke="#18367a" stroke-width="1.05" stroke-linejoin="miter"/>
<polygon points="66.38,305.41 68.78,309.31 63.98,309.31" fill="none" stroke="#18367a" stroke-width="1.05" stroke-linejoin="miter"/>
<polygon points="79.22,303.72 81.62,307.62 76.82,307.62" fill="none" stroke="#18367a" stroke-width="1.05" stroke-linejoin="miter"/>
<polygon points="92.06,302.04 94.46,305.94 89.66,305.94" fill="none" stroke="#18367a" stroke-width="1.05" stroke-linejoin="miter"/>
<polygon points="104.90,299.93 107.30,303.83 102.50,303.83" fill="none" stroke="#18367a" stroke-width="1.05" stroke-linejoin="miter"/>
<polygon points="117.74,298.42 120.14,302.32 115.34,302.32" fill="none" stroke="#18367a" stroke-width="1.05" stroke-linejoin="miter"/>
<polygon points="130.58,297.07 132.98,300.97 128.18,300.97" fill="none" stroke="#18367a" stroke-width="1.05" stroke-linejoin="miter"/>
<polygon points="143.42,295.81 145.82,299.71 141.02,299.71" fill="none" stroke="#18367a" stroke-width="1.05" stroke-linejoin="miter"/>
<polygon points="156.26,294.71 158.66,298.61 153.86,298.61" fill="none" stroke="#18367a" stroke-width="1.05" stroke-linejoin="miter"/>
<polygon points="169.10,293.62 171.50,297.52 166.70,297.52" fill="none" stroke="#18367a" stroke-width="1.05" stroke-linejoin="miter"/>
<line x1="40.70" y1="309.85" x2="53.54" y2="309.01" stroke="#5fa635" stroke-width="1.4" stroke-dasharray="3.22 3.22" stroke-dashoffset="1.61"/>
<line x1="53.54" y1="309.01" x2="66.38" y2="308.17" stroke="#5fa635" stroke-width="1.4" stroke-dasharray="3.22 3.22" stroke-dashoffset="1.61"/>
<line x1="66.38" y1="308.17" x2="79.22" y2="306.90" stroke="#5fa635" stroke-width="1.4" stroke-dasharray="3.23 3.23" stroke-dashoffset="1.61"/>
<line x1="79.22" y1="306.90" x2="92.06" y2="305.64" stroke="#5fa635" stroke-width="1.4" stroke-dasharray="3.23 3.23" stroke-dashoffset="1.61"/>
<line x1="92.06" y1="305.64" x2="104.90" y2="305.47" stroke="#5fa635" stroke-width="1.4" stroke-dasharray="3.21 3.21" stroke-dashoffset="1.61"/>
<line x1="104.90" y1="305.47" x2="117.74" y2="304.71" stroke="#5fa635" stroke-width="1.4" stroke-dasharray="3.22 3.22" stroke-dashoffset="1.61"/>
<line x1="117.74" y1="304.71" x2="130.58" y2="303.62" stroke="#5fa635" stroke-width="1.4" stroke-dasharray="3.22 3.22" stroke-dashoffset="1.61"/>
<line x1="130.58" y1="303.62" x2="143.42" y2="302.69" stroke="#5fa635" stroke-width="1.4" stroke-dasharray="3.22 3.22" stroke-dashoffset="1.61"/>
<line x1="143.42" y1="302.69" x2="156.26" y2="302.44" stroke="#5fa635" stroke-width="1.4" stroke-dasharray="3.21 3.21" stroke-dashoffset="1.61"/>
<line x1="156.26" y1="302.44" x2="169.10" y2="301.60" stroke="#5fa635" stroke-width="1.4" stroke-dasharray="3.22 3.22" stroke-dashoffset="1.61"/>
<rect x="38.75" y="307.95" width="3.9" height="3.8" fill="none" stroke="#5fa635" stroke-width="1.2"/>
<rect x="51.59" y="307.11" width="3.9" height="3.8" fill="none" stroke="#5fa635" stroke-width="1.2"/>
<rect x="64.43" y="306.27" width="3.9" height="3.8" fill="none" stroke="#5fa635" stroke-width="1.2"/>
<rect x="77.27" y="305.00" width="3.9" height="3.8" fill="none" stroke="#5fa635" stroke-width="1.2"/>
<rect x="90.11" y="303.74" width="3.9" height="3.8" fill="none" stroke="#5fa635" stroke-width="1.2"/>
<rect x="102.95" y="303.57" width="3.9" height="3.8" fill="none" stroke="#5fa635" stroke-width="1.2"/>
<rect x="115.79" y="302.81" width="3.9" height="3.8" fill="none" stroke="#5fa635" stroke-width="1.2"/>
<rect x="128.63" y="301.72" width="3.9" height="3.8" fill="none" stroke="#5fa635" stroke-width="1.2"/>
<rect x="141.47" y="300.79" width="3.9" height="3.8" fill="none" stroke="#5fa635" stroke-width="1.2"/>
<rect x="154.31" y="300.54" width="3.9" height="3.8" fill="none" stroke="#5fa635" stroke-width="1.2"/>
<rect x="167.15" y="299.70" width="3.9" height="3.8" fill="none" stroke="#5fa635" stroke-width="1.2"/>
<line x1="40.70" y1="225.65" x2="53.54" y2="226.91" stroke="#aa0027" stroke-width="1.4" stroke-dasharray="3.23 3.23" stroke-dashoffset="4.84"/>
<line x1="53.54" y1="226.91" x2="66.38" y2="228.77" stroke="#aa0027" stroke-width="1.4" stroke-dasharray="3.24 3.24" stroke-dashoffset="4.86"/>
<line x1="66.38" y1="228.77" x2="79.22" y2="229.44" stroke="#aa0027" stroke-width="1.4" stroke-dasharray="3.21 3.21" stroke-dashoffset="4.82"/>
<line x1="79.22" y1="229.44" x2="92.06" y2="230.95" stroke="#aa0027" stroke-width="1.4" stroke-dasharray="3.23 3.23" stroke-dashoffset="4.85"/>
<line x1="92.06" y1="230.95" x2="104.90" y2="232.22" stroke="#aa0027" stroke-width="1.4" stroke-dasharray="3.23 3.23" stroke-dashoffset="4.84"/>
<line x1="104.90" y1="232.22" x2="117.74" y2="233.82" stroke="#aa0027" stroke-width="1.4" stroke-dasharray="3.23 3.23" stroke-dashoffset="4.85"/>
<line x1="117.74" y1="233.82" x2="130.58" y2="235.25" stroke="#aa0027" stroke-width="1.4" stroke-dasharray="3.23 3.23" stroke-dashoffset="4.84"/>
<line x1="130.58" y1="235.25" x2="143.42" y2="237.10" stroke="#aa0027" stroke-width="1.4" stroke-dasharray="3.24 3.24" stroke-dashoffset="4.86"/>
<line x1="143.42" y1="237.10" x2="156.26" y2="238.28" stroke="#aa0027" stroke-width="1.4" stroke-dasharray="3.22 3.22" stroke-dashoffset="4.84"/>
<line x1="156.26" y1="238.28" x2="169.10" y2="239.54" stroke="#aa0027" stroke-width="1.4" stroke-dasharray="3.23 3.23" stroke-dashoffset="4.84"/>
<circle cx="53.54" cy="226.91" r="2.0" fill="none" stroke="#aa0027" stroke-width="1.1"/>
<circle cx="66.38" cy="228.77" r="2.0" fill="none" stroke="#aa0027" stroke-width="1.1"/>
<circle cx="79.22" cy="229.44" r="2.0" fill="none" stroke="#aa0027" stroke-width="1.1"/>
<circle cx="92.06" cy="230.95" r="2.0" fill="none" stroke="#aa0027" stroke-width="1.1"/>
<circle cx="104.90" cy="232.22" r="2.0" fill="none" stroke="#aa0027" stroke-width="1.1"/>
<circle cx="117.74" cy="233.82" r="2.0" fill="none" stroke="#aa0027" stroke-width="1.1"/>
<circle cx="130.58" cy="235.25" r="2.0" fill="none" stroke="#aa0027" stroke-width="1.1"/>
<circle cx="143.42" cy="237.10" r="2.0" fill="none" stroke="#aa0027" stroke-width="1.1"/>
<circle cx="156.26" cy="238.28" r="2.0" fill="none" stroke="#aa0027" stroke-width="1.1"/>
<circle cx="169.10" cy="239.54" r="2.0" fill="none" stroke="#aa0027" stroke-width="1.1"/>
<polyline points="40.70,225.65 53.54,226.58 79.22,231.97 104.90,234.15 130.58,237.02 156.26,238.45 169.10,239.37" fill="none" stroke="#4d1d6e" stroke-width="1.5" stroke-linejoin="round"/>
<circle cx="40.70" cy="225.65" r="2.25" fill="#4d1d6e"/>
<circle cx="53.54" cy="226.58" r="2.25" fill="#4d1d6e"/>
<circle cx="79.22" cy="231.97" r="2.25" fill="#4d1d6e"/>
<circle cx="104.90" cy="234.15" r="2.25" fill="#4d1d6e"/>
<circle cx="130.58" cy="237.02" r="2.25" fill="#4d1d6e"/>
<circle cx="156.26" cy="238.45" r="2.25" fill="#4d1d6e"/>
<circle cx="169.10" cy="239.37" r="2.25" fill="#4d1d6e"/>
<text x="40.70" y="320.15" font-size="8.6" text-anchor="middle" fill="#1c1c1c" font-weight="normal" stroke="#1c1c1c" stroke-width="0.25" >0</text>
<polygon points="53.61,320.15 54.37,320.15 54.37,313.99 53.87,313.99 52.08,315.11 52.08,315.82 53.61,314.88" fill="#1c1c1c" stroke="#1c1c1c" stroke-width="0.25" stroke-linejoin="round"/>
<text x="66.38" y="320.15" font-size="8.6" text-anchor="middle" fill="#1c1c1c" font-weight="normal" stroke="#1c1c1c" stroke-width="0.25" >2</text>
<text x="79.22" y="320.15" font-size="8.6" text-anchor="middle" fill="#1c1c1c" font-weight="normal" stroke="#1c1c1c" stroke-width="0.25" >3</text>
<text x="92.06" y="320.15" font-size="8.6" text-anchor="middle" fill="#1c1c1c" font-weight="normal" stroke="#1c1c1c" stroke-width="0.25" >4</text>
<text x="104.90" y="320.15" font-size="8.6" text-anchor="middle" fill="#1c1c1c" font-weight="normal" stroke="#1c1c1c" stroke-width="0.25" >5</text>
<text x="117.74" y="320.15" font-size="8.6" text-anchor="middle" fill="#1c1c1c" font-weight="normal" stroke="#1c1c1c" stroke-width="0.25" >6</text>
<text x="130.58" y="320.15" font-size="8.6" text-anchor="middle" fill="#1c1c1c" font-weight="normal" stroke="#1c1c1c" stroke-width="0.25" >7</text>
<text x="143.42" y="320.15" font-size="8.6" text-anchor="middle" fill="#1c1c1c" font-weight="normal" stroke="#1c1c1c" stroke-width="0.25" >8</text>
<text x="156.26" y="320.15" font-size="8.6" text-anchor="middle" fill="#1c1c1c" font-weight="normal" stroke="#1c1c1c" stroke-width="0.25" >9</text>
<polygon points="166.78,320.15 167.53,320.15 167.53,313.99 167.04,313.99 165.25,315.11 165.25,315.82 166.78,314.88" fill="#1c1c1c" stroke="#1c1c1c" stroke-width="0.25" stroke-linejoin="round"/>
<text x="169.10" y="320.15" font-size="8.6" text-anchor="start" fill="#1c1c1c" font-weight="normal" stroke="#1c1c1c" stroke-width="0.25" >0</text>
<text x="37.30" y="312.85" font-size="8.6" text-anchor="end" fill="#1c1c1c" font-weight="normal" stroke="#1c1c1c" stroke-width="0.25" >0</text>
<text x="37.30" y="296.01" font-size="8.6" text-anchor="end" fill="#1c1c1c" font-weight="normal" stroke="#1c1c1c" stroke-width="0.25" >0.2</text>
<text x="37.30" y="279.17" font-size="8.6" text-anchor="end" fill="#1c1c1c" font-weight="normal" stroke="#1c1c1c" stroke-width="0.25" >0.4</text>
<text x="37.30" y="262.33" font-size="8.6" text-anchor="end" fill="#1c1c1c" font-weight="normal" stroke="#1c1c1c" stroke-width="0.25" >0.6</text>
<text x="37.30" y="245.49" font-size="8.6" text-anchor="end" fill="#1c1c1c" font-weight="normal" stroke="#1c1c1c" stroke-width="0.25" >0.8</text>
<polygon points="34.98,228.65 35.73,228.65 35.73,222.49 35.24,222.49 33.45,223.61 33.45,224.32 34.98,223.38" fill="#1c1c1c" stroke="#1c1c1c" stroke-width="0.25" stroke-linejoin="round"/>
<text transform="translate(20.40,266.00) rotate(-90)" x="0" y="0" font-size="9.2" text-anchor="middle" fill="#1c1c1c" stroke="#1c1c1c" stroke-width="0.55" textLength="97.5" lengthAdjust="spacingAndGlyphs">Survival or cumulative incidence</text>
<text x="98.60" y="333.60" font-size="9.3" fill="#1c1c1c" stroke="#1c1c1c" stroke-width="0.55" textLength="15.90" lengthAdjust="spacingAndGlyphs">Years</text>
<line x1="207.60" y1="222.00" x2="207.60" y2="310.10" stroke="#262626" stroke-width="1.6" stroke-linecap="butt"/>
<line x1="206.80" y1="309.40" x2="338.50" y2="309.40" stroke="#151515" stroke-width="1.4" stroke-linecap="butt"/>
<line x1="207.60" y1="309.40" x2="220.37" y2="303.53" stroke="#18367a" stroke-width="1.5" stroke-dasharray="3.51 3.51" stroke-dashoffset="1.76"/>
<line x1="220.37" y1="303.53" x2="233.14" y2="299.33" stroke="#18367a" stroke-width="1.5" stroke-dasharray="3.36 3.36" stroke-dashoffset="1.68"/>
<line x1="233.14" y1="299.33" x2="245.91" y2="295.14" stroke="#18367a" stroke-width="1.5" stroke-dasharray="3.36 3.36" stroke-dashoffset="1.68"/>
<line x1="245.91" y1="295.14" x2="258.68" y2="291.36" stroke="#18367a" stroke-width="1.5" stroke-dasharray="3.33 3.33" stroke-dashoffset="1.66"/>
<line x1="258.68" y1="291.36" x2="271.45" y2="287.59" stroke="#18367a" stroke-width="1.5" stroke-dasharray="3.33 3.33" stroke-dashoffset="1.66"/>
<line x1="271.45" y1="287.59" x2="284.22" y2="284.23" stroke="#18367a" stroke-width="1.5" stroke-dasharray="3.30 3.30" stroke-dashoffset="1.65"/>
<line x1="284.22" y1="284.23" x2="296.99" y2="280.29" stroke="#18367a" stroke-width="1.5" stroke-dasharray="3.34 3.34" stroke-dashoffset="1.67"/>
<line x1="296.99" y1="280.29" x2="309.76" y2="277.27" stroke="#18367a" stroke-width="1.5" stroke-dasharray="3.28 3.28" stroke-dashoffset="1.64"/>
<line x1="309.76" y1="277.27" x2="322.53" y2="274.33" stroke="#18367a" stroke-width="1.5" stroke-dasharray="3.28 3.28" stroke-dashoffset="1.64"/>
<line x1="322.53" y1="274.33" x2="335.30" y2="271.56" stroke="#18367a" stroke-width="1.5" stroke-dasharray="3.27 3.27" stroke-dashoffset="1.63"/>
<polygon points="207.60,307.06 210.00,310.96 205.20,310.96" fill="none" stroke="#18367a" stroke-width="1.05" stroke-linejoin="miter"/>
<polygon points="220.37,301.19 222.77,305.09 217.97,305.09" fill="none" stroke="#18367a" stroke-width="1.05" stroke-linejoin="miter"/>
<polygon points="233.14,296.99 235.54,300.89 230.74,300.89" fill="none" stroke="#18367a" stroke-width="1.05" stroke-linejoin="miter"/>
<polygon points="245.91,292.80 248.31,296.70 243.51,296.70" fill="none" stroke="#18367a" stroke-width="1.05" stroke-linejoin="miter"/>
<polygon points="258.68,289.02 261.08,292.92 256.28,292.92" fill="none" stroke="#18367a" stroke-width="1.05" stroke-linejoin="miter"/>
<polygon points="271.45,285.25 273.85,289.15 269.05,289.15" fill="none" stroke="#18367a" stroke-width="1.05" stroke-linejoin="miter"/>
<polygon points="284.22,281.89 286.62,285.79 281.82,285.79" fill="none" stroke="#18367a" stroke-width="1.05" stroke-linejoin="miter"/>
<polygon points="296.99,277.95 299.39,281.85 294.59,281.85" fill="none" stroke="#18367a" stroke-width="1.05" stroke-linejoin="miter"/>
<polygon points="309.76,274.93 312.16,278.83 307.36,278.83" fill="none" stroke="#18367a" stroke-width="1.05" stroke-linejoin="miter"/>
<polygon points="322.53,271.99 324.93,275.89 320.13,275.89" fill="none" stroke="#18367a" stroke-width="1.05" stroke-linejoin="miter"/>
<polygon points="335.30,269.22 337.70,273.12 332.90,273.12" fill="none" stroke="#18367a" stroke-width="1.05" stroke-linejoin="miter"/>
<line x1="207.60" y1="309.40" x2="220.37" y2="306.04" stroke="#5fa635" stroke-width="1.4" stroke-dasharray="3.30 3.30" stroke-dashoffset="1.65"/>
<line x1="220.37" y1="306.04" x2="233.14" y2="304.37" stroke="#5fa635" stroke-width="1.4" stroke-dasharray="3.22 3.22" stroke-dashoffset="1.61"/>
<line x1="233.14" y1="304.37" x2="245.91" y2="302.27" stroke="#5fa635" stroke-width="1.4" stroke-dasharray="3.24 3.24" stroke-dashoffset="1.62"/>
<line x1="245.91" y1="302.27" x2="258.68" y2="300.17" stroke="#5fa635" stroke-width="1.4" stroke-dasharray="3.24 3.24" stroke-dashoffset="1.62"/>
<line x1="258.68" y1="300.17" x2="271.45" y2="298.49" stroke="#5fa635" stroke-width="1.4" stroke-dasharray="3.22 3.22" stroke-dashoffset="1.61"/>
<line x1="271.45" y1="298.49" x2="284.22" y2="296.65" stroke="#5fa635" stroke-width="1.4" stroke-dasharray="3.23 3.23" stroke-dashoffset="1.61"/>
<line x1="284.22" y1="296.65" x2="296.99" y2="294.97" stroke="#5fa635" stroke-width="1.4" stroke-dasharray="3.22 3.22" stroke-dashoffset="1.61"/>
<line x1="296.99" y1="294.97" x2="309.76" y2="293.63" stroke="#5fa635" stroke-width="1.4" stroke-dasharray="3.21 3.21" stroke-dashoffset="1.61"/>
<line x1="309.76" y1="293.63" x2="322.53" y2="292.20" stroke="#5fa635" stroke-width="1.4" stroke-dasharray="3.21 3.21" stroke-dashoffset="1.61"/>
<line x1="322.53" y1="292.20" x2="335.30" y2="290.69" stroke="#5fa635" stroke-width="1.4" stroke-dasharray="3.21 3.21" stroke-dashoffset="1.61"/>
<rect x="205.65" y="307.50" width="3.9" height="3.8" fill="none" stroke="#5fa635" stroke-width="1.2"/>
<rect x="218.42" y="304.14" width="3.9" height="3.8" fill="none" stroke="#5fa635" stroke-width="1.2"/>
<rect x="231.19" y="302.47" width="3.9" height="3.8" fill="none" stroke="#5fa635" stroke-width="1.2"/>
<rect x="243.96" y="300.37" width="3.9" height="3.8" fill="none" stroke="#5fa635" stroke-width="1.2"/>
<rect x="256.73" y="298.27" width="3.9" height="3.8" fill="none" stroke="#5fa635" stroke-width="1.2"/>
<rect x="269.50" y="296.59" width="3.9" height="3.8" fill="none" stroke="#5fa635" stroke-width="1.2"/>
<rect x="282.27" y="294.75" width="3.9" height="3.8" fill="none" stroke="#5fa635" stroke-width="1.2"/>
<rect x="295.04" y="293.07" width="3.9" height="3.8" fill="none" stroke="#5fa635" stroke-width="1.2"/>
<rect x="307.81" y="291.73" width="3.9" height="3.8" fill="none" stroke="#5fa635" stroke-width="1.2"/>
<rect x="320.58" y="290.30" width="3.9" height="3.8" fill="none" stroke="#5fa635" stroke-width="1.2"/>
<rect x="333.35" y="288.79" width="3.9" height="3.8" fill="none" stroke="#5fa635" stroke-width="1.2"/>
<line x1="207.60" y1="225.50" x2="220.37" y2="230.95" stroke="#aa0027" stroke-width="1.4" stroke-dasharray="3.47 3.47" stroke-dashoffset="5.21"/>
<line x1="220.37" y1="230.95" x2="233.14" y2="235.57" stroke="#aa0027" stroke-width="1.4" stroke-dasharray="3.39 3.39" stroke-dashoffset="5.09"/>
<line x1="233.14" y1="235.57" x2="245.91" y2="239.34" stroke="#aa0027" stroke-width="1.4" stroke-dasharray="3.33 3.33" stroke-dashoffset="4.99"/>
<line x1="245.91" y1="239.34" x2="258.68" y2="243.54" stroke="#aa0027" stroke-width="1.4" stroke-dasharray="3.36 3.36" stroke-dashoffset="5.04"/>
<line x1="258.68" y1="243.54" x2="271.45" y2="248.32" stroke="#aa0027" stroke-width="1.4" stroke-dasharray="3.41 3.41" stroke-dashoffset="5.11"/>
<line x1="271.45" y1="248.32" x2="284.22" y2="251.09" stroke="#aa0027" stroke-width="1.4" stroke-dasharray="3.27 3.27" stroke-dashoffset="4.90"/>
<line x1="284.22" y1="251.09" x2="296.99" y2="254.86" stroke="#aa0027" stroke-width="1.4" stroke-dasharray="3.33 3.33" stroke-dashoffset="4.99"/>
<line x1="296.99" y1="254.86" x2="309.76" y2="258.22" stroke="#aa0027" stroke-width="1.4" stroke-dasharray="3.30 3.30" stroke-dashoffset="4.95"/>
<line x1="309.76" y1="258.22" x2="322.53" y2="260.32" stroke="#aa0027" stroke-width="1.4" stroke-dasharray="3.24 3.24" stroke-dashoffset="4.85"/>
<line x1="322.53" y1="260.32" x2="335.30" y2="263.59" stroke="#aa0027" stroke-width="1.4" stroke-dasharray="3.30 3.30" stroke-dashoffset="4.94"/>
<circle cx="220.37" cy="230.95" r="2.0" fill="none" stroke="#aa0027" stroke-width="1.1"/>
<circle cx="233.14" cy="235.57" r="2.0" fill="none" stroke="#aa0027" stroke-width="1.1"/>
<circle cx="245.91" cy="239.34" r="2.0" fill="none" stroke="#aa0027" stroke-width="1.1"/>
<circle cx="258.68" cy="243.54" r="2.0" fill="none" stroke="#aa0027" stroke-width="1.1"/>
<circle cx="271.45" cy="248.32" r="2.0" fill="none" stroke="#aa0027" stroke-width="1.1"/>
<circle cx="284.22" cy="251.09" r="2.0" fill="none" stroke="#aa0027" stroke-width="1.1"/>
<circle cx="296.99" cy="254.86" r="2.0" fill="none" stroke="#aa0027" stroke-width="1.1"/>
<circle cx="309.76" cy="258.22" r="2.0" fill="none" stroke="#aa0027" stroke-width="1.1"/>
<circle cx="322.53" cy="260.32" r="2.0" fill="none" stroke="#aa0027" stroke-width="1.1"/>
<circle cx="335.30" cy="263.59" r="2.0" fill="none" stroke="#aa0027" stroke-width="1.1"/>
<polyline points="207.60,225.50 271.45,244.29 284.22,249.33 296.99,254.45" fill="none" stroke="#4d1d6e" stroke-width="1.5" stroke-linejoin="round"/>
<circle cx="207.60" cy="225.50" r="2.25" fill="#4d1d6e"/>
<circle cx="271.45" cy="244.29" r="2.25" fill="#4d1d6e"/>
<circle cx="284.22" cy="249.33" r="2.25" fill="#4d1d6e"/>
<circle cx="296.99" cy="254.45" r="2.25" fill="#4d1d6e"/>
<text x="207.60" y="319.70" font-size="8.6" text-anchor="middle" fill="#1c1c1c" font-weight="normal" stroke="#1c1c1c" stroke-width="0.25" >0</text>
<polygon points="220.44,319.70 221.20,319.70 221.20,313.54 220.70,313.54 218.91,314.66 218.91,315.37 220.44,314.43" fill="#1c1c1c" stroke="#1c1c1c" stroke-width="0.25" stroke-linejoin="round"/>
<text x="233.14" y="319.70" font-size="8.6" text-anchor="middle" fill="#1c1c1c" font-weight="normal" stroke="#1c1c1c" stroke-width="0.25" >2</text>
<text x="245.91" y="319.70" font-size="8.6" text-anchor="middle" fill="#1c1c1c" font-weight="normal" stroke="#1c1c1c" stroke-width="0.25" >3</text>
<text x="258.68" y="319.70" font-size="8.6" text-anchor="middle" fill="#1c1c1c" font-weight="normal" stroke="#1c1c1c" stroke-width="0.25" >4</text>
<text x="271.45" y="319.70" font-size="8.6" text-anchor="middle" fill="#1c1c1c" font-weight="normal" stroke="#1c1c1c" stroke-width="0.25" >5</text>
<text x="284.22" y="319.70" font-size="8.6" text-anchor="middle" fill="#1c1c1c" font-weight="normal" stroke="#1c1c1c" stroke-width="0.25" >6</text>
<text x="296.99" y="319.70" font-size="8.6" text-anchor="middle" fill="#1c1c1c" font-weight="normal" stroke="#1c1c1c" stroke-width="0.25" >7</text>
<text x="309.76" y="319.70" font-size="8.6" text-anchor="middle" fill="#1c1c1c" font-weight="normal" stroke="#1c1c1c" stroke-width="0.25" >8</text>
<text x="322.53" y="319.70" font-size="8.6" text-anchor="middle" fill="#1c1c1c" font-weight="normal" stroke="#1c1c1c" stroke-width="0.25" >9</text>
<polygon points="332.98,319.70 333.73,319.70 333.73,313.54 333.24,313.54 331.45,314.66 331.45,315.37 332.98,314.43" fill="#1c1c1c" stroke="#1c1c1c" stroke-width="0.25" stroke-linejoin="round"/>
<text x="335.30" y="319.70" font-size="8.6" text-anchor="start" fill="#1c1c1c" font-weight="normal" stroke="#1c1c1c" stroke-width="0.25" >0</text>
<text x="204.90" y="312.40" font-size="8.6" text-anchor="end" fill="#1c1c1c" font-weight="normal" stroke="#1c1c1c" stroke-width="0.25" >0</text>
<text x="204.90" y="295.62" font-size="8.6" text-anchor="end" fill="#1c1c1c" font-weight="normal" stroke="#1c1c1c" stroke-width="0.25" >0.2</text>
<text x="204.90" y="278.84" font-size="8.6" text-anchor="end" fill="#1c1c1c" font-weight="normal" stroke="#1c1c1c" stroke-width="0.25" >0.4</text>
<text x="204.90" y="262.06" font-size="8.6" text-anchor="end" fill="#1c1c1c" font-weight="normal" stroke="#1c1c1c" stroke-width="0.25" >0.6</text>
<text x="204.90" y="245.28" font-size="8.6" text-anchor="end" fill="#1c1c1c" font-weight="normal" stroke="#1c1c1c" stroke-width="0.25" >0.8</text>
<polygon points="202.58,228.50 203.33,228.50 203.33,222.34 202.84,222.34 201.05,223.46 201.05,224.17 202.58,223.23" fill="#1c1c1c" stroke="#1c1c1c" stroke-width="0.25" stroke-linejoin="round"/>
<text x="265.00" y="333.60" font-size="9.3" fill="#1c1c1c" stroke="#1c1c1c" stroke-width="0.55" textLength="16.50" lengthAdjust="spacingAndGlyphs">Years</text>
<line x1="374.00" y1="222.50" x2="374.00" y2="310.20" stroke="#4d4d4d" stroke-width="2.0" stroke-linecap="butt"/>
<line x1="373.00" y1="309.50" x2="505.80" y2="309.50" stroke="#151515" stroke-width="1.4" stroke-linecap="butt"/>
<line x1="374.00" y1="309.50" x2="386.77" y2="304.63" stroke="#18367a" stroke-width="1.5" stroke-dasharray="3.42 3.42" stroke-dashoffset="1.71"/>
<line x1="386.77" y1="304.63" x2="399.54" y2="300.44" stroke="#18367a" stroke-width="1.5" stroke-dasharray="3.36 3.36" stroke-dashoffset="1.68"/>
<line x1="399.54" y1="300.44" x2="412.31" y2="296.33" stroke="#18367a" stroke-width="1.5" stroke-dasharray="3.35 3.35" stroke-dashoffset="1.68"/>
<line x1="412.31" y1="296.33" x2="425.08" y2="291.88" stroke="#18367a" stroke-width="1.5" stroke-dasharray="3.38 3.38" stroke-dashoffset="1.69"/>
<line x1="425.08" y1="291.88" x2="437.85" y2="287.69" stroke="#18367a" stroke-width="1.5" stroke-dasharray="3.36 3.36" stroke-dashoffset="1.68"/>
<line x1="437.85" y1="287.69" x2="450.62" y2="284.58" stroke="#18367a" stroke-width="1.5" stroke-dasharray="3.29 3.29" stroke-dashoffset="1.64"/>
<line x1="450.62" y1="284.58" x2="463.39" y2="280.97" stroke="#18367a" stroke-width="1.5" stroke-dasharray="3.32 3.32" stroke-dashoffset="1.66"/>
<line x1="463.39" y1="280.97" x2="476.16" y2="278.12" stroke="#18367a" stroke-width="1.5" stroke-dasharray="3.27 3.27" stroke-dashoffset="1.64"/>
<line x1="476.16" y1="278.12" x2="488.93" y2="275.35" stroke="#18367a" stroke-width="1.5" stroke-dasharray="3.27 3.27" stroke-dashoffset="1.63"/>
<line x1="488.93" y1="275.35" x2="501.70" y2="272.42" stroke="#18367a" stroke-width="1.5" stroke-dasharray="3.28 3.28" stroke-dashoffset="1.64"/>
<polygon points="374.00,307.16 376.40,311.06 371.60,311.06" fill="none" stroke="#18367a" stroke-width="1.05" stroke-linejoin="miter"/>
<polygon points="386.77,302.29 389.17,306.19 384.37,306.19" fill="none" stroke="#18367a" stroke-width="1.05" stroke-linejoin="miter"/>
<polygon points="399.54,298.10 401.94,302.00 397.14,302.00" fill="none" stroke="#18367a" stroke-width="1.05" stroke-linejoin="miter"/>
<polygon points="412.31,293.99 414.71,297.89 409.91,297.89" fill="none" stroke="#18367a" stroke-width="1.05" stroke-linejoin="miter"/>
<polygon points="425.08,289.54 427.48,293.44 422.68,293.44" fill="none" stroke="#18367a" stroke-width="1.05" stroke-linejoin="miter"/>
<polygon points="437.85,285.35 440.25,289.25 435.45,289.25" fill="none" stroke="#18367a" stroke-width="1.05" stroke-linejoin="miter"/>
<polygon points="450.62,282.24 453.02,286.14 448.22,286.14" fill="none" stroke="#18367a" stroke-width="1.05" stroke-linejoin="miter"/>
<polygon points="463.39,278.63 465.79,282.53 460.99,282.53" fill="none" stroke="#18367a" stroke-width="1.05" stroke-linejoin="miter"/>
<polygon points="476.16,275.78 478.56,279.68 473.76,279.68" fill="none" stroke="#18367a" stroke-width="1.05" stroke-linejoin="miter"/>
<polygon points="488.93,273.01 491.33,276.91 486.53,276.91" fill="none" stroke="#18367a" stroke-width="1.05" stroke-linejoin="miter"/>
<polygon points="501.70,270.08 504.10,273.98 499.30,273.98" fill="none" stroke="#18367a" stroke-width="1.05" stroke-linejoin="miter"/>
<line x1="374.00" y1="309.50" x2="386.77" y2="308.24" stroke="#5fa635" stroke-width="1.4" stroke-dasharray="3.21 3.21" stroke-dashoffset="1.60"/>
<line x1="386.77" y1="308.24" x2="399.54" y2="305.31" stroke="#5fa635" stroke-width="1.4" stroke-dasharray="3.28 3.28" stroke-dashoffset="1.64"/>
<line x1="399.54" y1="305.31" x2="412.31" y2="304.05" stroke="#5fa635" stroke-width="1.4" stroke-dasharray="3.21 3.21" stroke-dashoffset="1.60"/>
<line x1="412.31" y1="304.05" x2="425.08" y2="302.45" stroke="#5fa635" stroke-width="1.4" stroke-dasharray="3.22 3.22" stroke-dashoffset="1.61"/>
<line x1="425.08" y1="302.45" x2="437.85" y2="300.27" stroke="#5fa635" stroke-width="1.4" stroke-dasharray="3.24 3.24" stroke-dashoffset="1.62"/>
<line x1="437.85" y1="300.27" x2="450.62" y2="298.93" stroke="#5fa635" stroke-width="1.4" stroke-dasharray="3.21 3.21" stroke-dashoffset="1.61"/>
<line x1="450.62" y1="298.93" x2="463.39" y2="297.33" stroke="#5fa635" stroke-width="1.4" stroke-dasharray="3.22 3.22" stroke-dashoffset="1.61"/>
<line x1="463.39" y1="297.33" x2="476.16" y2="296.33" stroke="#5fa635" stroke-width="1.4" stroke-dasharray="3.20 3.20" stroke-dashoffset="1.60"/>
<line x1="476.16" y1="296.33" x2="488.93" y2="295.15" stroke="#5fa635" stroke-width="1.4" stroke-dasharray="3.21 3.21" stroke-dashoffset="1.60"/>
<line x1="488.93" y1="295.15" x2="501.70" y2="293.39" stroke="#5fa635" stroke-width="1.4" stroke-dasharray="3.22 3.22" stroke-dashoffset="1.61"/>
<rect x="372.05" y="307.60" width="3.9" height="3.8" fill="none" stroke="#5fa635" stroke-width="1.2"/>
<rect x="384.82" y="306.34" width="3.9" height="3.8" fill="none" stroke="#5fa635" stroke-width="1.2"/>
<rect x="397.59" y="303.41" width="3.9" height="3.8" fill="none" stroke="#5fa635" stroke-width="1.2"/>
<rect x="410.36" y="302.15" width="3.9" height="3.8" fill="none" stroke="#5fa635" stroke-width="1.2"/>
<rect x="423.13" y="300.55" width="3.9" height="3.8" fill="none" stroke="#5fa635" stroke-width="1.2"/>
<rect x="435.90" y="298.37" width="3.9" height="3.8" fill="none" stroke="#5fa635" stroke-width="1.2"/>
<rect x="448.67" y="297.03" width="3.9" height="3.8" fill="none" stroke="#5fa635" stroke-width="1.2"/>
<rect x="461.44" y="295.43" width="3.9" height="3.8" fill="none" stroke="#5fa635" stroke-width="1.2"/>
<rect x="474.21" y="294.43" width="3.9" height="3.8" fill="none" stroke="#5fa635" stroke-width="1.2"/>
<rect x="486.98" y="293.25" width="3.9" height="3.8" fill="none" stroke="#5fa635" stroke-width="1.2"/>
<rect x="499.75" y="291.49" width="3.9" height="3.8" fill="none" stroke="#5fa635" stroke-width="1.2"/>
<line x1="374.00" y1="225.60" x2="386.77" y2="231.47" stroke="#aa0027" stroke-width="1.4" stroke-dasharray="3.51 3.51" stroke-dashoffset="5.27"/>
<line x1="386.77" y1="231.47" x2="399.54" y2="234.66" stroke="#aa0027" stroke-width="1.4" stroke-dasharray="3.29 3.29" stroke-dashoffset="4.94"/>
<line x1="399.54" y1="234.66" x2="412.31" y2="239.19" stroke="#aa0027" stroke-width="1.4" stroke-dasharray="3.39 3.39" stroke-dashoffset="5.08"/>
<line x1="412.31" y1="239.19" x2="425.08" y2="244.06" stroke="#aa0027" stroke-width="1.4" stroke-dasharray="3.42 3.42" stroke-dashoffset="5.12"/>
<line x1="425.08" y1="244.06" x2="437.85" y2="247.33" stroke="#aa0027" stroke-width="1.4" stroke-dasharray="3.30 3.30" stroke-dashoffset="4.94"/>
<line x1="437.85" y1="247.33" x2="450.62" y2="251.11" stroke="#aa0027" stroke-width="1.4" stroke-dasharray="3.33 3.33" stroke-dashoffset="4.99"/>
<line x1="450.62" y1="251.11" x2="463.39" y2="254.38" stroke="#aa0027" stroke-width="1.4" stroke-dasharray="3.30 3.30" stroke-dashoffset="4.94"/>
<line x1="463.39" y1="254.38" x2="476.16" y2="257.65" stroke="#aa0027" stroke-width="1.4" stroke-dasharray="3.30 3.30" stroke-dashoffset="4.94"/>
<line x1="476.16" y1="257.65" x2="488.93" y2="260.08" stroke="#aa0027" stroke-width="1.4" stroke-dasharray="3.25 3.25" stroke-dashoffset="4.87"/>
<line x1="488.93" y1="260.08" x2="501.70" y2="263.19" stroke="#aa0027" stroke-width="1.4" stroke-dasharray="3.29 3.29" stroke-dashoffset="4.93"/>
<circle cx="386.77" cy="231.47" r="2.0" fill="none" stroke="#aa0027" stroke-width="1.1"/>
<circle cx="399.54" cy="234.66" r="2.0" fill="none" stroke="#aa0027" stroke-width="1.1"/>
<circle cx="412.31" cy="239.19" r="2.0" fill="none" stroke="#aa0027" stroke-width="1.1"/>
<circle cx="425.08" cy="244.06" r="2.0" fill="none" stroke="#aa0027" stroke-width="1.1"/>
<circle cx="437.85" cy="247.33" r="2.0" fill="none" stroke="#aa0027" stroke-width="1.1"/>
<circle cx="450.62" cy="251.11" r="2.0" fill="none" stroke="#aa0027" stroke-width="1.1"/>
<circle cx="463.39" cy="254.38" r="2.0" fill="none" stroke="#aa0027" stroke-width="1.1"/>
<circle cx="476.16" cy="257.65" r="2.0" fill="none" stroke="#aa0027" stroke-width="1.1"/>
<circle cx="488.93" cy="260.08" r="2.0" fill="none" stroke="#aa0027" stroke-width="1.1"/>
<circle cx="501.70" cy="263.19" r="2.0" fill="none" stroke="#aa0027" stroke-width="1.1"/>
<polyline points="374.00,225.60 399.54,236.09 425.08,244.06" fill="none" stroke="#4d1d6e" stroke-width="1.5" stroke-linejoin="round"/>
<circle cx="374.00" cy="225.60" r="2.25" fill="#4d1d6e"/>
<circle cx="399.54" cy="236.09" r="2.25" fill="#4d1d6e"/>
<circle cx="425.08" cy="244.06" r="2.25" fill="#4d1d6e"/>
<text x="374.00" y="319.80" font-size="8.6" text-anchor="middle" fill="#1c1c1c" font-weight="normal" stroke="#1c1c1c" stroke-width="0.25" >0</text>
<polygon points="386.84,319.80 387.60,319.80 387.60,313.64 387.10,313.64 385.31,314.76 385.31,315.47 386.84,314.53" fill="#1c1c1c" stroke="#1c1c1c" stroke-width="0.25" stroke-linejoin="round"/>
<text x="399.54" y="319.80" font-size="8.6" text-anchor="middle" fill="#1c1c1c" font-weight="normal" stroke="#1c1c1c" stroke-width="0.25" >2</text>
<text x="412.31" y="319.80" font-size="8.6" text-anchor="middle" fill="#1c1c1c" font-weight="normal" stroke="#1c1c1c" stroke-width="0.25" >3</text>
<text x="425.08" y="319.80" font-size="8.6" text-anchor="middle" fill="#1c1c1c" font-weight="normal" stroke="#1c1c1c" stroke-width="0.25" >4</text>
<text x="437.85" y="319.80" font-size="8.6" text-anchor="middle" fill="#1c1c1c" font-weight="normal" stroke="#1c1c1c" stroke-width="0.25" >5</text>
<text x="450.62" y="319.80" font-size="8.6" text-anchor="middle" fill="#1c1c1c" font-weight="normal" stroke="#1c1c1c" stroke-width="0.25" >6</text>
<text x="463.39" y="319.80" font-size="8.6" text-anchor="middle" fill="#1c1c1c" font-weight="normal" stroke="#1c1c1c" stroke-width="0.25" >7</text>
<text x="476.16" y="319.80" font-size="8.6" text-anchor="middle" fill="#1c1c1c" font-weight="normal" stroke="#1c1c1c" stroke-width="0.25" >8</text>
<text x="488.93" y="319.80" font-size="8.6" text-anchor="middle" fill="#1c1c1c" font-weight="normal" stroke="#1c1c1c" stroke-width="0.25" >9</text>
<polygon points="499.38,319.80 500.13,319.80 500.13,313.64 499.64,313.64 497.85,314.76 497.85,315.47 499.38,314.53" fill="#1c1c1c" stroke="#1c1c1c" stroke-width="0.25" stroke-linejoin="round"/>
<text x="501.70" y="319.80" font-size="8.6" text-anchor="start" fill="#1c1c1c" font-weight="normal" stroke="#1c1c1c" stroke-width="0.25" >0</text>
<text x="371.30" y="312.50" font-size="8.6" text-anchor="end" fill="#1c1c1c" font-weight="normal" stroke="#1c1c1c" stroke-width="0.25" >0</text>
<text x="371.30" y="295.72" font-size="8.6" text-anchor="end" fill="#1c1c1c" font-weight="normal" stroke="#1c1c1c" stroke-width="0.25" >0.2</text>
<text x="371.30" y="278.94" font-size="8.6" text-anchor="end" fill="#1c1c1c" font-weight="normal" stroke="#1c1c1c" stroke-width="0.25" >0.4</text>
<text x="371.30" y="262.16" font-size="8.6" text-anchor="end" fill="#1c1c1c" font-weight="normal" stroke="#1c1c1c" stroke-width="0.25" >0.6</text>
<text x="371.30" y="245.38" font-size="8.6" text-anchor="end" fill="#1c1c1c" font-weight="normal" stroke="#1c1c1c" stroke-width="0.25" >0.8</text>
<polygon points="368.98,228.60 369.73,228.60 369.73,222.44 369.24,222.44 367.45,223.56 367.45,224.27 368.98,223.33" fill="#1c1c1c" stroke="#1c1c1c" stroke-width="0.25" stroke-linejoin="round"/>
<text x="431.50" y="333.60" font-size="9.3" fill="#1c1c1c" stroke="#1c1c1c" stroke-width="0.55" textLength="16.50" lengthAdjust="spacingAndGlyphs">Years</text>
<line x1="44.60" y1="350.10" x2="47.60" y2="350.10" stroke="#aa0027" stroke-width="1.7" stroke-linecap="butt"/>
<line x1="52.55" y1="350.10" x2="54.60" y2="350.10" stroke="#aa0027" stroke-width="1.7" stroke-linecap="butt"/>
<circle cx="50.90" cy="350.10" r="1.65" fill="none" stroke="#aa0027" stroke-width="1.1"/>
<text x="60.30" y="352.40" font-size="8.0" text-anchor="start" fill="#1c1c1c" font-weight="normal" stroke="#1c1c1c" stroke-width="0.1" textLength="45.91" lengthAdjust="spacingAndGlyphs" >Predicted OS</text>
<line x1="44.60" y1="359.80" x2="47.60" y2="359.80" stroke="#18367a" stroke-width="1.7" stroke-linecap="butt"/>
<line x1="50.90" y1="359.80" x2="54.60" y2="359.80" stroke="#18367a" stroke-width="1.7" stroke-linecap="butt"/>
<polygon points="50.90,357.28 53.50,361.48 48.30,361.48" fill="none" stroke="#18367a" stroke-width="1.05" stroke-linejoin="miter"/>
<text x="60.30" y="362.10" font-size="8.0" text-anchor="start" fill="#1c1c1c" font-weight="normal" stroke="#1c1c1c" stroke-width="0.1" textLength="54.08" lengthAdjust="spacingAndGlyphs" >Predicted death</text>
<line x1="44.60" y1="369.45" x2="47.60" y2="369.45" stroke="#5fa635" stroke-width="1.7" stroke-linecap="butt"/>
<line x1="50.90" y1="369.45" x2="54.60" y2="369.45" stroke="#5fa635" stroke-width="1.7" stroke-linecap="butt"/>
<rect x="48.95" y="367.55" width="3.9" height="3.8" fill="none" stroke="#5fa635" stroke-width="1.2"/>
<text x="60.30" y="371.75" font-size="8.0" text-anchor="start" fill="#1c1c1c" font-weight="normal" stroke="#1c1c1c" stroke-width="0.1" textLength="96.13" lengthAdjust="spacingAndGlyphs" >Predicted death due to CML</text>
<line x1="44.60" y1="379.10" x2="57.70" y2="379.10" stroke="#4d1d6e" stroke-width="1.9" stroke-linecap="butt"/>
<circle cx="50.90" cy="379.10" r="2.4" fill="#4d1d6e"/>
<text x="60.30" y="381.40" font-size="8.0" text-anchor="start" fill="#1c1c1c" font-weight="normal" stroke="#1c1c1c" stroke-width="0.1" textLength="31.31" lengthAdjust="spacingAndGlyphs" >OS(IRIS)</text>
<line x1="220.85" y1="349.70" x2="223.85" y2="349.70" stroke="#aa0027" stroke-width="1.7" stroke-linecap="butt"/>
<line x1="228.75" y1="349.70" x2="231.00" y2="349.70" stroke="#aa0027" stroke-width="1.7" stroke-linecap="butt"/>
<circle cx="227.10" cy="349.70" r="1.65" fill="none" stroke="#aa0027" stroke-width="1.1"/>
<text x="236.60" y="352.00" font-size="8.0" text-anchor="start" fill="#1c1c1c" font-weight="normal" stroke="#1c1c1c" stroke-width="0.1" textLength="45.91" lengthAdjust="spacingAndGlyphs" >Predicted OS</text>
<line x1="220.85" y1="359.40" x2="223.85" y2="359.40" stroke="#18367a" stroke-width="1.7" stroke-linecap="butt"/>
<line x1="227.10" y1="359.40" x2="231.00" y2="359.40" stroke="#18367a" stroke-width="1.7" stroke-linecap="butt"/>
<polygon points="227.10,356.88 229.70,361.08 224.50,361.08" fill="none" stroke="#18367a" stroke-width="1.05" stroke-linejoin="miter"/>
<text x="236.60" y="361.70" font-size="8.0" text-anchor="start" fill="#1c1c1c" font-weight="normal" stroke="#1c1c1c" stroke-width="0.1" textLength="54.08" lengthAdjust="spacingAndGlyphs" >Predicted death</text>
<line x1="220.85" y1="369.05" x2="223.85" y2="369.05" stroke="#5fa635" stroke-width="1.7" stroke-linecap="butt"/>
<line x1="227.10" y1="369.05" x2="231.00" y2="369.05" stroke="#5fa635" stroke-width="1.7" stroke-linecap="butt"/>
<rect x="225.15" y="367.15" width="3.9" height="3.8" fill="none" stroke="#5fa635" stroke-width="1.2"/>
<text x="236.60" y="371.35" font-size="8.0" text-anchor="start" fill="#1c1c1c" font-weight="normal" stroke="#1c1c1c" stroke-width="0.1" textLength="96.13" lengthAdjust="spacingAndGlyphs" >Predicted death due to CML</text>
<line x1="220.85" y1="378.70" x2="233.50" y2="378.70" stroke="#4d1d6e" stroke-width="1.9" stroke-linecap="butt"/>
<circle cx="227.10" cy="378.70" r="2.4" fill="#4d1d6e"/>
<text x="236.60" y="381.00" font-size="8.0" text-anchor="start" fill="#1c1c1c" font-weight="normal" stroke="#1c1c1c" stroke-width="0.1" textLength="57.50" lengthAdjust="spacingAndGlyphs" >OS (CA180-134)</text>
<line x1="374.85" y1="349.70" x2="377.85" y2="349.70" stroke="#aa0027" stroke-width="1.7" stroke-linecap="butt"/>
<line x1="382.80" y1="349.70" x2="385.30" y2="349.70" stroke="#aa0027" stroke-width="1.7" stroke-linecap="butt"/>
<circle cx="381.15" cy="349.70" r="1.65" fill="none" stroke="#aa0027" stroke-width="1.1"/>
<text x="390.40" y="352.00" font-size="8.0" text-anchor="start" fill="#1c1c1c" font-weight="normal" stroke="#1c1c1c" stroke-width="0.1" textLength="45.91" lengthAdjust="spacingAndGlyphs" >Predicted OS</text>
<line x1="374.85" y1="359.40" x2="377.85" y2="359.40" stroke="#18367a" stroke-width="1.7" stroke-linecap="butt"/>
<line x1="381.15" y1="359.40" x2="385.30" y2="359.40" stroke="#18367a" stroke-width="1.7" stroke-linecap="butt"/>
<polygon points="381.15,356.88 383.75,361.08 378.55,361.08" fill="none" stroke="#18367a" stroke-width="1.05" stroke-linejoin="miter"/>
<text x="390.40" y="361.70" font-size="8.0" text-anchor="start" fill="#1c1c1c" font-weight="normal" stroke="#1c1c1c" stroke-width="0.1" textLength="54.08" lengthAdjust="spacingAndGlyphs" >Predicted death</text>
<line x1="374.85" y1="369.05" x2="377.85" y2="369.05" stroke="#5fa635" stroke-width="1.7" stroke-linecap="butt"/>
<line x1="381.15" y1="369.05" x2="385.30" y2="369.05" stroke="#5fa635" stroke-width="1.7" stroke-linecap="butt"/>
<rect x="379.20" y="367.15" width="3.9" height="3.8" fill="none" stroke="#5fa635" stroke-width="1.2"/>
<text x="390.40" y="371.35" font-size="8.0" text-anchor="start" fill="#1c1c1c" font-weight="normal" stroke="#1c1c1c" stroke-width="0.1" textLength="96.13" lengthAdjust="spacingAndGlyphs" >Predicted death due to CML</text>
<line x1="374.85" y1="378.70" x2="387.60" y2="378.70" stroke="#4d1d6e" stroke-width="1.9" stroke-linecap="butt"/>
<circle cx="381.15" cy="378.70" r="2.4" fill="#4d1d6e"/>
<text x="390.40" y="381.00" font-size="8.0" text-anchor="start" fill="#1c1c1c" font-weight="normal" stroke="#1c1c1c" stroke-width="0.1" textLength="108.13" lengthAdjust="spacingAndGlyphs" >Reported OS(CAMN107A2101)</text>
</g>
<rect x="0" y="0" width="520" height="1.1" fill="#000"/>
<rect x="0" y="0" width="1.1" height="391" fill="#000"/>
<rect x="518.5" y="0" width="1.5" height="391" fill="#000"/>
<rect x="0" y="389.5" width="520" height="1.5" fill="#000"/>
</svg>
</body></html>
